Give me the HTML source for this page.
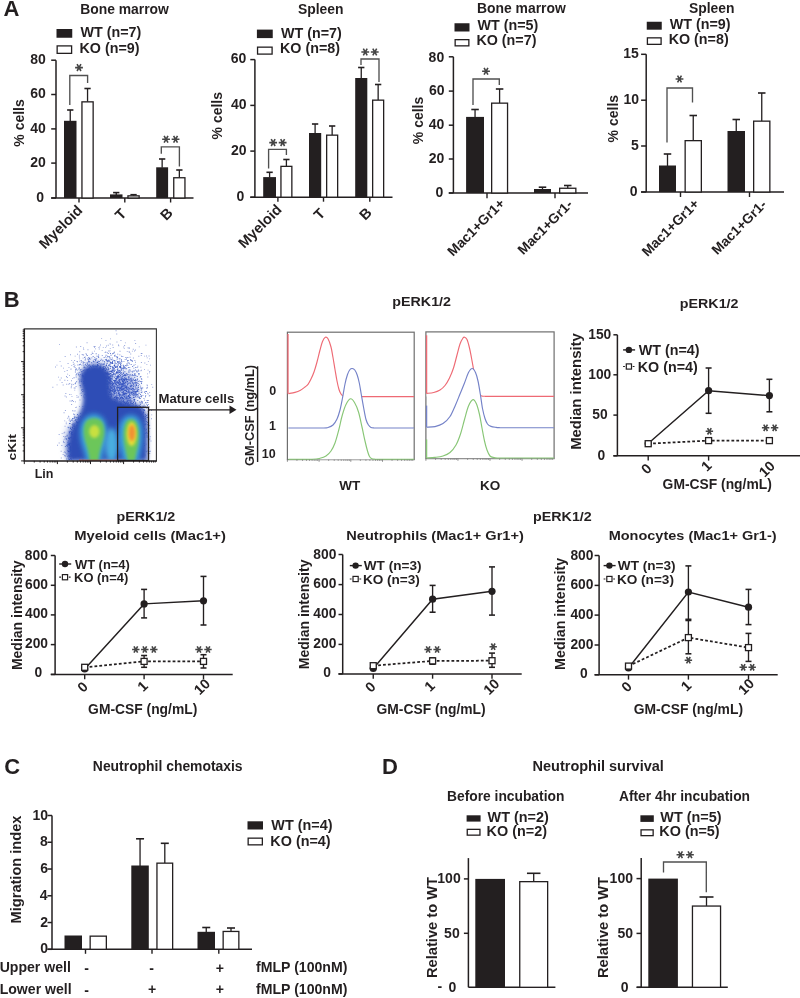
<!DOCTYPE html><html><head><meta charset="utf-8"><style>html,body{margin:0;padding:0;background:#fff;}svg{display:block;will-change:transform;}text{font-family:"Liberation Sans",sans-serif;font-weight:bold;}</style></head><body>
<svg width="800" height="998" viewBox="0 0 800 998">
<rect width="800" height="998" fill="#fff"/>
<text x="3.53" y="15.60" font-size="22" text-anchor="start" fill="#231f20">A</text>
<text x="3.71" y="307.20" font-size="22" text-anchor="start" fill="#231f20">B</text>
<text x="4.14" y="774.46" font-size="22" text-anchor="start" fill="#231f20">C</text>
<text x="382.00" y="774.20" font-size="22" text-anchor="start" fill="#231f20">D</text>
<text x="80.14" y="14.00" font-size="13.9" text-anchor="start" fill="#231f20">Bone marrow</text>
<rect x="56.50" y="29.00" width="15.75" height="8.75" fill="#231f20"/>
<rect x="57.15" y="45.90" width="14.45" height="7.45" fill="#fff" stroke="#231f20" stroke-width="1.3"/>
<text x="80.50" y="37.20" font-size="14.3" text-anchor="start" fill="#231f20">WT (n=7)</text>
<text x="79.50" y="53.20" font-size="14.3" text-anchor="start" fill="#231f20">KO (n=9)</text>
<line x1="56.00" y1="60.20" x2="56.00" y2="198.00" stroke="#231f20" stroke-width="1.5"/>
<line x1="51.20" y1="198.00" x2="193.50" y2="198.00" stroke="#231f20" stroke-width="1.5"/>
<line x1="51.20" y1="198.00" x2="56.00" y2="198.00" stroke="#231f20" stroke-width="1.5"/>
<text x="36.25" y="201.71" font-size="14" text-anchor="start" fill="#231f20">0</text>
<line x1="51.20" y1="163.10" x2="56.00" y2="163.10" stroke="#231f20" stroke-width="1.5"/>
<text x="30.30" y="167.31" font-size="14" text-anchor="start" fill="#231f20">20</text>
<line x1="51.20" y1="128.90" x2="56.00" y2="128.90" stroke="#231f20" stroke-width="1.5"/>
<text x="30.30" y="132.91" font-size="14" text-anchor="start" fill="#231f20">40</text>
<line x1="51.20" y1="94.50" x2="56.00" y2="94.50" stroke="#231f20" stroke-width="1.5"/>
<text x="30.30" y="98.31" font-size="14" text-anchor="start" fill="#231f20">60</text>
<line x1="51.20" y1="60.20" x2="56.00" y2="60.20" stroke="#231f20" stroke-width="1.5"/>
<text x="30.20" y="63.81" font-size="14" text-anchor="start" fill="#231f20">80</text>
<line x1="79.00" y1="198.00" x2="79.00" y2="202.50" stroke="#231f20" stroke-width="1.4"/>
<line x1="124.80" y1="198.00" x2="124.80" y2="202.50" stroke="#231f20" stroke-width="1.4"/>
<line x1="170.60" y1="198.00" x2="170.60" y2="202.50" stroke="#231f20" stroke-width="1.4"/>
<line x1="70.25" y1="110.00" x2="70.25" y2="121.30" stroke="#231f20" stroke-width="1.3"/>
<line x1="67.10" y1="110.00" x2="73.40" y2="110.00" stroke="#231f20" stroke-width="1.6"/>
<rect x="64.00" y="120.80" width="12.50" height="77.20" fill="#231f20"/>
<line x1="87.55" y1="88.50" x2="87.55" y2="101.70" stroke="#231f20" stroke-width="1.3"/>
<line x1="84.40" y1="88.50" x2="90.70" y2="88.50" stroke="#231f20" stroke-width="1.6"/>
<rect x="81.95" y="101.85" width="11.20" height="96.15" fill="#fff" stroke="#231f20" stroke-width="1.3"/>
<line x1="116.25" y1="192.60" x2="116.25" y2="194.90" stroke="#231f20" stroke-width="1.3"/>
<line x1="113.10" y1="192.60" x2="119.40" y2="192.60" stroke="#231f20" stroke-width="1.6"/>
<rect x="110.00" y="194.40" width="12.50" height="3.60" fill="#231f20"/>
<line x1="133.55" y1="194.70" x2="133.55" y2="195.70" stroke="#231f20" stroke-width="1.3"/>
<line x1="130.40" y1="194.70" x2="136.70" y2="194.70" stroke="#231f20" stroke-width="1.6"/>
<rect x="127.95" y="195.85" width="11.20" height="2.15" fill="#fff" stroke="#231f20" stroke-width="1.3"/>
<line x1="162.15" y1="159.00" x2="162.15" y2="167.80" stroke="#231f20" stroke-width="1.3"/>
<line x1="159.00" y1="159.00" x2="165.30" y2="159.00" stroke="#231f20" stroke-width="1.6"/>
<rect x="156.20" y="167.30" width="11.90" height="30.70" fill="#231f20"/>
<line x1="179.35" y1="170.00" x2="179.35" y2="177.60" stroke="#231f20" stroke-width="1.3"/>
<line x1="176.20" y1="170.00" x2="182.50" y2="170.00" stroke="#231f20" stroke-width="1.6"/>
<rect x="173.75" y="177.75" width="11.20" height="20.25" fill="#fff" stroke="#231f20" stroke-width="1.3"/>
<polyline points="69.80,105.00 69.80,75.50 87.60,75.50 87.60,83.00" fill="none" stroke="#505050" stroke-width="1.35"/>
<path d="M75.10,67.60L82.90,67.60M77.05,64.22L80.95,70.98M80.95,64.22L77.05,70.98" stroke="#454545" stroke-width="1.6" fill="none"/>
<polyline points="161.30,153.80 161.30,146.90 179.40,146.90 179.40,166.50" fill="none" stroke="#505050" stroke-width="1.35"/>
<path d="M162.15,139.30L169.95,139.30M164.10,135.92L168.00,142.68M168.00,135.92L164.10,142.68" stroke="#454545" stroke-width="1.6" fill="none"/>
<path d="M171.65,139.30L179.45,139.30M173.60,135.92L177.50,142.68M177.50,135.92L173.60,142.68" stroke="#454545" stroke-width="1.6" fill="none"/>
<text x="0.00" y="0.00" font-size="14" text-anchor="start" fill="#231f20" transform="translate(24.30 146.71) rotate(-90)">% cells</text>
<text x="0.00" y="0.00" font-size="14.6" text-anchor="start" fill="#231f20" transform="translate(44.94 249.67) rotate(-45)">Myeloid</text>
<text x="0.00" y="0.00" font-size="14.6" text-anchor="start" fill="#231f20" transform="translate(121.02 221.05) rotate(-45)">T</text>
<text x="0.00" y="0.00" font-size="14.6" text-anchor="start" fill="#231f20" transform="translate(166.14 221.26) rotate(-45)">B</text>
<text x="298.00" y="13.75" font-size="13.9" text-anchor="start" fill="#231f20">Spleen</text>
<rect x="256.90" y="29.60" width="15.85" height="8.50" fill="#231f20"/>
<rect x="257.55" y="47.15" width="14.55" height="6.95" fill="#fff" stroke="#231f20" stroke-width="1.3"/>
<text x="281.00" y="37.50" font-size="14.3" text-anchor="start" fill="#231f20">WT (n=7)</text>
<text x="280.00" y="53.20" font-size="14.3" text-anchor="start" fill="#231f20">KO (n=8)</text>
<line x1="254.90" y1="59.60" x2="254.90" y2="197.20" stroke="#231f20" stroke-width="1.5"/>
<line x1="250.30" y1="197.20" x2="392.50" y2="197.20" stroke="#231f20" stroke-width="1.5"/>
<line x1="250.30" y1="197.20" x2="254.90" y2="197.20" stroke="#231f20" stroke-width="1.5"/>
<text x="236.45" y="200.91" font-size="14" text-anchor="start" fill="#231f20">0</text>
<line x1="250.30" y1="151.10" x2="254.90" y2="151.10" stroke="#231f20" stroke-width="1.5"/>
<text x="231.00" y="155.01" font-size="14" text-anchor="start" fill="#231f20">20</text>
<line x1="250.30" y1="105.40" x2="254.90" y2="105.40" stroke="#231f20" stroke-width="1.5"/>
<text x="231.00" y="109.31" font-size="14" text-anchor="start" fill="#231f20">40</text>
<line x1="250.30" y1="59.60" x2="254.90" y2="59.60" stroke="#231f20" stroke-width="1.5"/>
<text x="230.80" y="63.41" font-size="14" text-anchor="start" fill="#231f20">60</text>
<line x1="277.90" y1="197.20" x2="277.90" y2="201.70" stroke="#231f20" stroke-width="1.4"/>
<line x1="323.50" y1="197.20" x2="323.50" y2="201.70" stroke="#231f20" stroke-width="1.4"/>
<line x1="369.80" y1="197.20" x2="369.80" y2="201.70" stroke="#231f20" stroke-width="1.4"/>
<line x1="269.60" y1="172.30" x2="269.60" y2="177.60" stroke="#231f20" stroke-width="1.3"/>
<line x1="266.45" y1="172.30" x2="272.75" y2="172.30" stroke="#231f20" stroke-width="1.6"/>
<rect x="263.20" y="177.10" width="12.80" height="20.10" fill="#231f20"/>
<line x1="286.40" y1="159.50" x2="286.40" y2="166.20" stroke="#231f20" stroke-width="1.3"/>
<line x1="283.25" y1="159.50" x2="289.55" y2="159.50" stroke="#231f20" stroke-width="1.6"/>
<rect x="280.95" y="166.35" width="10.90" height="30.85" fill="#fff" stroke="#231f20" stroke-width="1.3"/>
<line x1="315.10" y1="124.00" x2="315.10" y2="133.50" stroke="#231f20" stroke-width="1.3"/>
<line x1="311.95" y1="124.00" x2="318.25" y2="124.00" stroke="#231f20" stroke-width="1.6"/>
<rect x="309.00" y="133.00" width="12.20" height="64.20" fill="#231f20"/>
<line x1="332.15" y1="126.00" x2="332.15" y2="135.00" stroke="#231f20" stroke-width="1.3"/>
<line x1="329.00" y1="126.00" x2="335.30" y2="126.00" stroke="#231f20" stroke-width="1.6"/>
<rect x="326.65" y="135.15" width="11.00" height="62.05" fill="#fff" stroke="#231f20" stroke-width="1.3"/>
<line x1="361.25" y1="67.50" x2="361.25" y2="78.50" stroke="#231f20" stroke-width="1.3"/>
<line x1="358.10" y1="67.50" x2="364.40" y2="67.50" stroke="#231f20" stroke-width="1.6"/>
<rect x="355.20" y="78.00" width="12.10" height="119.20" fill="#231f20"/>
<line x1="378.15" y1="84.50" x2="378.15" y2="100.00" stroke="#231f20" stroke-width="1.3"/>
<line x1="375.00" y1="84.50" x2="381.30" y2="84.50" stroke="#231f20" stroke-width="1.6"/>
<rect x="372.65" y="100.15" width="11.00" height="97.05" fill="#fff" stroke="#231f20" stroke-width="1.3"/>
<polyline points="268.60,168.60 268.60,149.40 286.40,149.40 286.40,155.00" fill="none" stroke="#505050" stroke-width="1.35"/>
<path d="M269.25,142.60L277.05,142.60M271.20,139.22L275.10,145.98M275.10,139.22L271.20,145.98" stroke="#454545" stroke-width="1.6" fill="none"/>
<path d="M278.75,142.60L286.55,142.60M280.70,139.22L284.60,145.98M284.60,139.22L280.70,145.98" stroke="#454545" stroke-width="1.6" fill="none"/>
<polyline points="361.00,65.00 361.00,59.00 379.00,59.00 379.00,82.00" fill="none" stroke="#505050" stroke-width="1.35"/>
<path d="M361.35,52.00L369.15,52.00M363.30,48.62L367.20,55.38M367.20,48.62L363.30,55.38" stroke="#454545" stroke-width="1.6" fill="none"/>
<path d="M370.85,52.00L378.65,52.00M372.80,48.62L376.70,55.38M376.70,48.62L372.80,55.38" stroke="#454545" stroke-width="1.6" fill="none"/>
<text x="0.00" y="0.00" font-size="14" text-anchor="start" fill="#231f20" transform="translate(222.45 139.46) rotate(-90)">% cells</text>
<text x="0.00" y="0.00" font-size="14.6" text-anchor="start" fill="#231f20" transform="translate(244.14 248.92) rotate(-45)">Myeloid</text>
<text x="0.00" y="0.00" font-size="14.6" text-anchor="start" fill="#231f20" transform="translate(319.82 220.80) rotate(-45)">T</text>
<text x="0.00" y="0.00" font-size="14.6" text-anchor="start" fill="#231f20" transform="translate(365.24 220.96) rotate(-45)">B</text>
<text x="477.04" y="12.75" font-size="13.9" text-anchor="start" fill="#231f20">Bone marrow</text>
<rect x="454.50" y="23.25" width="15.00" height="8.25" fill="#231f20"/>
<rect x="455.15" y="39.65" width="13.70" height="6.20" fill="#fff" stroke="#231f20" stroke-width="1.3"/>
<text x="477.45" y="30.00" font-size="14.3" text-anchor="start" fill="#231f20">WT (n=5)</text>
<text x="476.45" y="45.00" font-size="14.3" text-anchor="start" fill="#231f20">KO (n=7)</text>
<line x1="453.40" y1="56.80" x2="453.40" y2="193.00" stroke="#231f20" stroke-width="1.5"/>
<line x1="448.80" y1="193.00" x2="588.00" y2="193.00" stroke="#231f20" stroke-width="1.5"/>
<line x1="448.80" y1="193.00" x2="453.40" y2="193.00" stroke="#231f20" stroke-width="1.5"/>
<text x="435.55" y="197.31" font-size="14" text-anchor="start" fill="#231f20">0</text>
<line x1="448.80" y1="159.00" x2="453.40" y2="159.00" stroke="#231f20" stroke-width="1.5"/>
<text x="428.80" y="163.01" font-size="14" text-anchor="start" fill="#231f20">20</text>
<line x1="448.80" y1="125.20" x2="453.40" y2="125.20" stroke="#231f20" stroke-width="1.5"/>
<text x="428.80" y="129.21" font-size="14" text-anchor="start" fill="#231f20">40</text>
<line x1="448.80" y1="91.10" x2="453.40" y2="91.10" stroke="#231f20" stroke-width="1.5"/>
<text x="429.00" y="95.11" font-size="14" text-anchor="start" fill="#231f20">60</text>
<line x1="448.80" y1="56.80" x2="453.40" y2="56.80" stroke="#231f20" stroke-width="1.5"/>
<text x="428.60" y="61.61" font-size="14" text-anchor="start" fill="#231f20">80</text>
<line x1="487.00" y1="193.00" x2="487.00" y2="198.20" stroke="#231f20" stroke-width="1.4"/>
<line x1="555.00" y1="193.00" x2="555.00" y2="198.20" stroke="#231f20" stroke-width="1.4"/>
<line x1="475.05" y1="109.50" x2="475.05" y2="117.40" stroke="#231f20" stroke-width="1.3"/>
<line x1="471.30" y1="109.50" x2="478.80" y2="109.50" stroke="#231f20" stroke-width="1.6"/>
<rect x="466.10" y="116.90" width="17.90" height="76.10" fill="#231f20"/>
<line x1="499.60" y1="89.00" x2="499.60" y2="103.00" stroke="#231f20" stroke-width="1.3"/>
<line x1="495.85" y1="89.00" x2="503.35" y2="89.00" stroke="#231f20" stroke-width="1.6"/>
<rect x="491.65" y="103.15" width="15.90" height="89.85" fill="#fff" stroke="#231f20" stroke-width="1.3"/>
<line x1="542.50" y1="187.20" x2="542.50" y2="189.50" stroke="#231f20" stroke-width="1.3"/>
<line x1="538.75" y1="187.20" x2="546.25" y2="187.20" stroke="#231f20" stroke-width="1.6"/>
<rect x="534.00" y="189.00" width="17.00" height="4.00" fill="#231f20"/>
<line x1="567.75" y1="185.50" x2="567.75" y2="188.10" stroke="#231f20" stroke-width="1.3"/>
<line x1="564.00" y1="185.50" x2="571.50" y2="185.50" stroke="#231f20" stroke-width="1.6"/>
<rect x="559.65" y="188.25" width="16.20" height="4.75" fill="#fff" stroke="#231f20" stroke-width="1.3"/>
<polyline points="473.00,105.00 473.00,79.00 499.30,79.00 499.30,85.00" fill="none" stroke="#505050" stroke-width="1.35"/>
<path d="M482.10,71.20L489.90,71.20M484.05,67.82L487.95,74.58M487.95,67.82L484.05,74.58" stroke="#454545" stroke-width="1.6" fill="none"/>
<text x="0.00" y="0.00" font-size="14" text-anchor="start" fill="#231f20" transform="translate(422.90 144.21) rotate(-90)">% cells</text>
<text x="0.00" y="0.00" font-size="13.8" text-anchor="start" fill="#231f20" transform="translate(453.01 256.93) rotate(-45)">Mac1+Gr1+</text>
<text x="0.00" y="0.00" font-size="13.8" text-anchor="start" fill="#231f20" transform="translate(523.25 255.49) rotate(-45)">Mac1+Gr1-</text>
<text x="688.90" y="12.75" font-size="13.9" text-anchor="start" fill="#231f20">Spleen</text>
<rect x="646.75" y="21.75" width="15.00" height="7.95" fill="#231f20"/>
<rect x="647.40" y="37.85" width="13.70" height="6.50" fill="#fff" stroke="#231f20" stroke-width="1.3"/>
<text x="669.70" y="28.80" font-size="14.3" text-anchor="start" fill="#231f20">WT (n=9)</text>
<text x="668.70" y="43.50" font-size="14.3" text-anchor="start" fill="#231f20">KO (n=8)</text>
<line x1="646.20" y1="54.30" x2="646.20" y2="192.00" stroke="#231f20" stroke-width="1.5"/>
<line x1="641.10" y1="192.00" x2="784.00" y2="192.00" stroke="#231f20" stroke-width="1.5"/>
<line x1="641.10" y1="192.00" x2="646.20" y2="192.00" stroke="#231f20" stroke-width="1.5"/>
<text x="629.65" y="196.31" font-size="14" text-anchor="start" fill="#231f20">0</text>
<line x1="641.10" y1="146.00" x2="646.20" y2="146.00" stroke="#231f20" stroke-width="1.5"/>
<text x="631.02" y="150.05" font-size="14" text-anchor="start" fill="#231f20">5</text>
<line x1="641.10" y1="100.20" x2="646.20" y2="100.20" stroke="#231f20" stroke-width="1.5"/>
<text x="623.40" y="104.21" font-size="14" text-anchor="start" fill="#231f20">10</text>
<line x1="641.10" y1="54.30" x2="646.20" y2="54.30" stroke="#231f20" stroke-width="1.5"/>
<text x="623.27" y="58.35" font-size="14" text-anchor="start" fill="#231f20">15</text>
<line x1="680.50" y1="192.00" x2="680.50" y2="197.00" stroke="#231f20" stroke-width="1.4"/>
<line x1="749.50" y1="192.00" x2="749.50" y2="197.00" stroke="#231f20" stroke-width="1.4"/>
<line x1="667.50" y1="154.00" x2="667.50" y2="166.00" stroke="#231f20" stroke-width="1.3"/>
<line x1="663.75" y1="154.00" x2="671.25" y2="154.00" stroke="#231f20" stroke-width="1.6"/>
<rect x="659.00" y="165.50" width="17.00" height="26.50" fill="#231f20"/>
<line x1="693.25" y1="115.50" x2="693.25" y2="140.50" stroke="#231f20" stroke-width="1.3"/>
<line x1="689.50" y1="115.50" x2="697.00" y2="115.50" stroke="#231f20" stroke-width="1.6"/>
<rect x="685.15" y="140.65" width="16.20" height="51.35" fill="#fff" stroke="#231f20" stroke-width="1.3"/>
<line x1="736.25" y1="119.50" x2="736.25" y2="131.50" stroke="#231f20" stroke-width="1.3"/>
<line x1="732.50" y1="119.50" x2="740.00" y2="119.50" stroke="#231f20" stroke-width="1.6"/>
<rect x="727.50" y="131.00" width="17.50" height="61.00" fill="#231f20"/>
<line x1="761.75" y1="93.00" x2="761.75" y2="121.00" stroke="#231f20" stroke-width="1.3"/>
<line x1="758.00" y1="93.00" x2="765.50" y2="93.00" stroke="#231f20" stroke-width="1.6"/>
<rect x="753.65" y="121.15" width="16.20" height="70.85" fill="#fff" stroke="#231f20" stroke-width="1.3"/>
<polyline points="667.00,142.50 667.00,88.00 692.50,88.00 692.50,102.50" fill="none" stroke="#505050" stroke-width="1.35"/>
<path d="M675.60,79.00L683.40,79.00M677.55,75.62L681.45,82.38M681.45,75.62L677.55,82.38" stroke="#454545" stroke-width="1.6" fill="none"/>
<text x="0.00" y="0.00" font-size="14" text-anchor="start" fill="#231f20" transform="translate(618.15 142.41) rotate(-90)">% cells</text>
<text x="0.00" y="0.00" font-size="13.8" text-anchor="start" fill="#231f20" transform="translate(647.41 257.18) rotate(-45)">Mac1+Gr1+</text>
<text x="0.00" y="0.00" font-size="13.8" text-anchor="start" fill="#231f20" transform="translate(717.25 255.59) rotate(-45)">Mac1+Gr1-</text>
<defs><clipPath id="fc"><rect x="24.5" y="328.9" width="131.6" height="131.6"/></clipPath><filter id="b1" x="-30%" y="-30%" width="160%" height="160%"><feGaussianBlur stdDeviation="1.9"/></filter><filter id="b2" x="-50%" y="-50%" width="200%" height="200%"><feGaussianBlur stdDeviation="2.4"/></filter><filter id="b3" x="-50%" y="-50%" width="200%" height="200%"><feGaussianBlur stdDeviation="1.6"/></filter><filter id="b4" x="-50%" y="-50%" width="200%" height="200%"><feGaussianBlur stdDeviation="3.5"/></filter></defs>
<g clip-path="url(#fc)">
<ellipse cx="124" cy="389" rx="14" ry="17" fill="#6f86d4" opacity="0.55" filter="url(#b4)"/>
<ellipse cx="73" cy="442" rx="8" ry="18" fill="#6f86d4" opacity="0.5" filter="url(#b4)"/>
<ellipse cx="96" cy="366" rx="13" ry="6" fill="#8193d8" opacity="0.35" filter="url(#b4)"/>
<path d="M111.8,389.7h.9v.9h-.9zM117.7,371.1h.9v.9h-.9zM103.8,378.5h.9v.9h-.9zM104.1,385.0h.9v.9h-.9zM103.1,368.3h.9v.9h-.9zM115.6,406.3h.9v.9h-.9zM106.9,379.9h.9v.9h-.9zM101.4,371.3h.9v.9h-.9zM117.8,404.5h.9v.9h-.9zM87.4,371.4h.9v.9h-.9zM120.2,363.9h.9v.9h-.9zM107.4,382.8h.9v.9h-.9zM112.5,389.4h.9v.9h-.9zM115.9,366.9h.9v.9h-.9zM74.4,422.7h.9v.9h-.9zM98.9,389.8h.9v.9h-.9zM105.7,367.9h.9v.9h-.9zM68.4,437.9h.9v.9h-.9zM121.6,379.8h.9v.9h-.9zM90.8,381.8h.9v.9h-.9zM116.0,398.7h.9v.9h-.9zM126.0,397.8h.9v.9h-.9zM70.4,445.7h.9v.9h-.9zM77.7,422.0h.9v.9h-.9zM108.6,376.2h.9v.9h-.9zM112.2,384.7h.9v.9h-.9zM112.6,386.2h.9v.9h-.9zM121.4,377.0h.9v.9h-.9zM107.9,391.2h.9v.9h-.9zM76.7,426.8h.9v.9h-.9zM123.2,393.6h.9v.9h-.9zM103.3,378.1h.9v.9h-.9zM123.6,405.7h.9v.9h-.9zM121.5,384.6h.9v.9h-.9zM112.3,401.5h.9v.9h-.9zM115.3,380.6h.9v.9h-.9zM120.7,405.0h.9v.9h-.9zM118.9,386.5h.9v.9h-.9zM120.2,364.5h.9v.9h-.9zM99.1,375.5h.9v.9h-.9zM128.5,400.5h.9v.9h-.9zM84.4,378.6h.9v.9h-.9zM135.8,390.7h.9v.9h-.9zM124.9,382.3h.9v.9h-.9zM106.1,378.2h.9v.9h-.9zM106.7,371.4h.9v.9h-.9zM116.0,397.3h.9v.9h-.9zM126.4,373.5h.9v.9h-.9zM112.6,386.8h.9v.9h-.9zM122.8,405.5h.9v.9h-.9zM130.6,384.8h.9v.9h-.9zM71.2,429.0h.9v.9h-.9zM69.2,444.6h.9v.9h-.9zM98.5,376.4h.9v.9h-.9zM75.2,437.5h.9v.9h-.9zM119.0,394.4h.9v.9h-.9zM95.2,379.0h.9v.9h-.9zM107.4,366.5h.9v.9h-.9zM109.8,376.0h.9v.9h-.9zM99.0,368.0h.9v.9h-.9zM113.3,373.8h.9v.9h-.9zM74.2,453.8h.9v.9h-.9zM114.2,401.5h.9v.9h-.9zM119.0,398.8h.9v.9h-.9zM126.0,377.9h.9v.9h-.9zM133.4,399.5h.9v.9h-.9zM115.9,384.4h.9v.9h-.9zM99.6,383.2h.9v.9h-.9zM102.4,363.9h.9v.9h-.9zM106.4,380.2h.9v.9h-.9zM88.9,367.6h.9v.9h-.9zM106.5,388.1h.9v.9h-.9zM104.5,386.0h.9v.9h-.9zM119.7,394.6h.9v.9h-.9zM127.8,396.1h.9v.9h-.9zM76.0,437.9h.9v.9h-.9zM103.8,392.3h.9v.9h-.9zM124.9,392.5h.9v.9h-.9zM127.4,397.9h.9v.9h-.9zM129.1,397.3h.9v.9h-.9zM72.8,425.6h.9v.9h-.9zM93.5,369.7h.9v.9h-.9zM94.6,374.4h.9v.9h-.9zM135.2,388.6h.9v.9h-.9zM104.1,361.2h.9v.9h-.9zM122.0,375.9h.9v.9h-.9zM120.0,366.6h.9v.9h-.9zM78.6,424.5h.9v.9h-.9zM126.2,368.3h.9v.9h-.9zM105.1,390.5h.9v.9h-.9zM71.4,434.2h.9v.9h-.9zM106.7,380.9h.9v.9h-.9zM102.4,384.0h.9v.9h-.9zM137.5,395.7h.9v.9h-.9zM114.0,397.3h.9v.9h-.9zM105.9,396.2h.9v.9h-.9zM122.6,385.0h.9v.9h-.9zM117.8,397.4h.9v.9h-.9zM115.3,405.0h.9v.9h-.9zM125.8,396.4h.9v.9h-.9zM109.2,377.0h.9v.9h-.9zM111.8,391.2h.9v.9h-.9zM105.0,376.4h.9v.9h-.9zM100.1,367.6h.9v.9h-.9zM93.9,382.8h.9v.9h-.9zM115.5,377.9h.9v.9h-.9zM135.4,386.8h.9v.9h-.9zM98.6,388.8h.9v.9h-.9zM119.1,396.4h.9v.9h-.9zM69.7,456.3h.9v.9h-.9zM119.3,381.0h.9v.9h-.9zM120.5,393.9h.9v.9h-.9zM97.3,362.1h.9v.9h-.9zM110.0,373.0h.9v.9h-.9zM104.3,388.0h.9v.9h-.9zM115.9,402.6h.9v.9h-.9zM134.3,399.0h.9v.9h-.9zM112.9,370.2h.9v.9h-.9zM107.3,375.3h.9v.9h-.9zM103.0,388.1h.9v.9h-.9zM103.7,380.3h.9v.9h-.9zM95.8,372.1h.9v.9h-.9zM89.1,375.8h.9v.9h-.9zM132.9,383.6h.9v.9h-.9zM122.3,400.9h.9v.9h-.9zM114.8,402.0h.9v.9h-.9zM101.3,387.5h.9v.9h-.9zM70.4,449.6h.9v.9h-.9zM117.5,387.1h.9v.9h-.9zM85.4,377.9h.9v.9h-.9zM100.0,380.9h.9v.9h-.9zM114.0,393.4h.9v.9h-.9zM70.6,452.5h.9v.9h-.9zM128.2,405.1h.9v.9h-.9zM125.4,389.5h.9v.9h-.9zM119.2,395.3h.9v.9h-.9zM117.1,381.3h.9v.9h-.9zM120.8,399.9h.9v.9h-.9zM115.7,404.1h.9v.9h-.9zM72.7,430.5h.9v.9h-.9zM123.1,382.6h.9v.9h-.9zM68.9,450.9h.9v.9h-.9zM75.7,430.0h.9v.9h-.9zM76.3,435.6h.9v.9h-.9zM117.8,397.3h.9v.9h-.9zM114.6,393.1h.9v.9h-.9zM68.2,437.6h.9v.9h-.9zM76.3,420.9h.9v.9h-.9zM114.7,397.0h.9v.9h-.9zM110.3,396.5h.9v.9h-.9zM134.7,385.5h.9v.9h-.9zM97.7,370.8h.9v.9h-.9zM122.4,388.6h.9v.9h-.9zM133.1,402.1h.9v.9h-.9zM122.9,401.2h.9v.9h-.9zM124.1,380.0h.9v.9h-.9zM92.6,376.1h.9v.9h-.9zM122.0,383.8h.9v.9h-.9zM68.9,432.1h.9v.9h-.9zM108.8,397.9h.9v.9h-.9zM117.4,367.8h.9v.9h-.9zM115.6,378.6h.9v.9h-.9zM104.1,392.2h.9v.9h-.9zM113.3,386.3h.9v.9h-.9zM98.8,373.9h.9v.9h-.9zM110.6,394.5h.9v.9h-.9zM103.6,388.7h.9v.9h-.9zM138.4,390.7h.9v.9h-.9zM143.1,412.1h.9v.9h-.9zM114.2,381.3h.9v.9h-.9zM120.2,375.0h.9v.9h-.9zM118.2,382.0h.9v.9h-.9zM89.2,375.1h.9v.9h-.9zM122.5,392.5h.9v.9h-.9zM79.3,426.7h.9v.9h-.9zM83.1,375.9h.9v.9h-.9zM129.6,399.8h.9v.9h-.9zM123.5,399.1h.9v.9h-.9zM70.2,442.8h.9v.9h-.9zM75.8,450.6h.9v.9h-.9zM122.8,392.3h.9v.9h-.9zM92.2,386.7h.9v.9h-.9zM109.0,402.1h.9v.9h-.9zM72.8,444.7h.9v.9h-.9zM119.6,367.0h.9v.9h-.9zM116.1,383.8h.9v.9h-.9zM112.6,382.9h.9v.9h-.9zM86.7,371.8h.9v.9h-.9zM81.6,427.4h.9v.9h-.9zM132.8,391.8h.9v.9h-.9zM118.4,393.0h.9v.9h-.9zM69.4,455.9h.9v.9h-.9zM123.9,388.5h.9v.9h-.9zM76.8,423.4h.9v.9h-.9zM129.4,374.6h.9v.9h-.9zM124.8,368.4h.9v.9h-.9zM99.7,375.8h.9v.9h-.9zM92.8,368.9h.9v.9h-.9zM127.1,381.0h.9v.9h-.9zM100.6,379.1h.9v.9h-.9zM114.1,398.9h.9v.9h-.9zM138.9,397.6h.9v.9h-.9zM113.2,380.1h.9v.9h-.9zM120.8,390.3h.9v.9h-.9zM69.9,445.7h.9v.9h-.9zM116.8,382.7h.9v.9h-.9zM113.2,388.8h.9v.9h-.9zM141.5,413.9h.9v.9h-.9zM123.6,382.7h.9v.9h-.9zM118.5,369.8h.9v.9h-.9zM122.9,365.5h.9v.9h-.9zM74.4,446.1h.9v.9h-.9zM125.6,398.0h.9v.9h-.9zM131.0,391.9h.9v.9h-.9zM112.1,378.6h.9v.9h-.9zM93.1,384.4h.9v.9h-.9zM123.3,397.9h.9v.9h-.9zM76.5,430.4h.9v.9h-.9zM81.7,426.8h.9v.9h-.9zM120.2,382.6h.9v.9h-.9zM122.5,383.4h.9v.9h-.9zM92.5,382.3h.9v.9h-.9zM76.4,441.2h.9v.9h-.9zM132.0,382.3h.9v.9h-.9zM104.0,363.6h.9v.9h-.9zM119.1,388.2h.9v.9h-.9zM117.2,361.9h.9v.9h-.9zM120.4,383.7h.9v.9h-.9zM72.2,427.6h.9v.9h-.9zM92.4,374.3h.9v.9h-.9zM116.2,402.8h.9v.9h-.9zM106.9,385.4h.9v.9h-.9zM98.3,373.8h.9v.9h-.9zM95.4,372.2h.9v.9h-.9zM121.5,392.0h.9v.9h-.9zM109.3,365.6h.9v.9h-.9zM71.2,449.9h.9v.9h-.9zM100.7,363.4h.9v.9h-.9zM108.5,399.7h.9v.9h-.9zM130.0,397.1h.9v.9h-.9zM142.7,405.6h.9v.9h-.9zM71.0,431.6h.9v.9h-.9zM116.2,398.3h.9v.9h-.9zM111.1,390.3h.9v.9h-.9zM87.0,378.9h.9v.9h-.9zM100.9,384.7h.9v.9h-.9zM108.1,377.0h.9v.9h-.9zM115.6,363.1h.9v.9h-.9zM131.0,388.5h.9v.9h-.9zM85.9,377.4h.9v.9h-.9zM130.0,403.4h.9v.9h-.9zM72.3,424.6h.9v.9h-.9zM127.1,405.5h.9v.9h-.9zM118.7,370.1h.9v.9h-.9zM91.5,383.7h.9v.9h-.9zM100.1,366.7h.9v.9h-.9zM70.2,447.5h.9v.9h-.9zM87.2,383.1h.9v.9h-.9zM131.0,392.0h.9v.9h-.9zM107.4,389.6h.9v.9h-.9zM91.7,374.9h.9v.9h-.9zM74.2,434.8h.9v.9h-.9zM78.2,422.3h.9v.9h-.9zM75.7,446.9h.9v.9h-.9zM120.2,390.6h.9v.9h-.9zM133.0,397.2h.9v.9h-.9zM120.3,367.7h.9v.9h-.9zM97.5,372.2h.9v.9h-.9zM130.3,378.2h.9v.9h-.9zM141.5,423.4h.9v.9h-.9zM110.0,390.2h.9v.9h-.9zM128.3,395.0h.9v.9h-.9zM114.3,385.6h.9v.9h-.9zM100.5,363.8h.9v.9h-.9zM77.1,434.9h.9v.9h-.9zM137.3,390.3h.9v.9h-.9zM108.4,386.3h.9v.9h-.9zM134.9,391.0h.9v.9h-.9zM118.1,382.9h.9v.9h-.9zM120.7,402.5h.9v.9h-.9zM114.5,382.2h.9v.9h-.9zM108.8,392.2h.9v.9h-.9zM94.2,384.5h.9v.9h-.9zM106.7,379.8h.9v.9h-.9zM115.4,396.2h.9v.9h-.9zM106.3,372.5h.9v.9h-.9zM113.6,392.5h.9v.9h-.9zM80.9,430.0h.9v.9h-.9zM127.2,388.8h.9v.9h-.9zM107.7,382.4h.9v.9h-.9zM114.0,391.0h.9v.9h-.9zM129.1,382.5h.9v.9h-.9zM95.4,378.3h.9v.9h-.9zM130.2,386.0h.9v.9h-.9zM66.6,445.1h.9v.9h-.9zM96.4,382.5h.9v.9h-.9zM127.0,384.3h.9v.9h-.9zM116.2,392.3h.9v.9h-.9zM115.9,396.6h.9v.9h-.9zM127.8,402.1h.9v.9h-.9zM131.5,384.9h.9v.9h-.9zM116.9,386.4h.9v.9h-.9zM116.8,369.1h.9v.9h-.9zM102.3,367.4h.9v.9h-.9zM132.8,391.4h.9v.9h-.9zM107.2,373.2h.9v.9h-.9zM123.8,388.3h.9v.9h-.9zM121.6,395.2h.9v.9h-.9zM129.0,404.5h.9v.9h-.9zM83.4,376.4h.9v.9h-.9zM141.8,401.8h.9v.9h-.9zM109.2,380.3h.9v.9h-.9zM112.0,389.8h.9v.9h-.9zM85.6,374.0h.9v.9h-.9zM128.8,388.5h.9v.9h-.9zM109.4,378.7h.9v.9h-.9zM118.7,379.1h.9v.9h-.9zM122.7,390.8h.9v.9h-.9zM108.3,396.2h.9v.9h-.9zM124.4,394.1h.9v.9h-.9zM124.5,393.8h.9v.9h-.9zM113.4,403.6h.9v.9h-.9zM93.0,377.5h.9v.9h-.9zM126.4,400.6h.9v.9h-.9zM136.2,394.1h.9v.9h-.9zM120.0,372.5h.9v.9h-.9zM119.3,367.2h.9v.9h-.9zM114.5,390.2h.9v.9h-.9zM86.9,376.4h.9v.9h-.9zM115.5,389.2h.9v.9h-.9zM113.7,392.7h.9v.9h-.9zM105.6,373.0h.9v.9h-.9zM136.5,387.9h.9v.9h-.9zM105.0,389.5h.9v.9h-.9zM124.3,374.1h.9v.9h-.9zM118.4,381.7h.9v.9h-.9zM130.0,374.4h.9v.9h-.9zM124.8,379.4h.9v.9h-.9zM89.6,383.4h.9v.9h-.9zM74.2,452.1h.9v.9h-.9zM125.5,382.6h.9v.9h-.9zM143.0,420.3h.9v.9h-.9zM97.7,382.3h.9v.9h-.9zM123.2,394.8h.9v.9h-.9zM95.5,375.3h.9v.9h-.9zM112.4,387.7h.9v.9h-.9zM100.5,368.4h.9v.9h-.9zM124.5,401.5h.9v.9h-.9zM103.8,394.1h.9v.9h-.9zM93.5,375.1h.9v.9h-.9zM127.4,383.5h.9v.9h-.9zM125.9,373.3h.9v.9h-.9zM110.4,375.3h.9v.9h-.9zM107.7,377.6h.9v.9h-.9zM108.6,388.2h.9v.9h-.9zM114.3,404.4h.9v.9h-.9zM119.7,383.9h.9v.9h-.9zM75.9,434.7h.9v.9h-.9zM137.3,394.1h.9v.9h-.9zM98.9,374.2h.9v.9h-.9zM125.5,396.7h.9v.9h-.9zM70.6,443.3h.9v.9h-.9zM93.8,377.4h.9v.9h-.9zM128.5,370.8h.9v.9h-.9zM110.2,366.3h.9v.9h-.9zM114.2,364.8h.9v.9h-.9zM108.4,388.9h.9v.9h-.9zM121.2,370.2h.9v.9h-.9zM101.6,382.4h.9v.9h-.9zM110.7,392.5h.9v.9h-.9zM117.4,386.2h.9v.9h-.9zM100.4,390.8h.9v.9h-.9zM84.2,377.4h.9v.9h-.9zM87.4,370.0h.9v.9h-.9zM66.9,445.9h.9v.9h-.9zM111.3,370.4h.9v.9h-.9zM127.5,388.8h.9v.9h-.9zM127.5,403.7h.9v.9h-.9zM73.8,424.9h.9v.9h-.9zM113.5,393.9h.9v.9h-.9zM97.2,387.3h.9v.9h-.9zM124.9,403.6h.9v.9h-.9zM86.3,378.6h.9v.9h-.9zM91.7,383.0h.9v.9h-.9zM88.9,376.1h.9v.9h-.9zM127.5,383.6h.9v.9h-.9zM116.1,394.5h.9v.9h-.9zM134.9,379.8h.9v.9h-.9zM109.9,385.6h.9v.9h-.9zM93.1,366.3h.9v.9h-.9zM124.6,385.3h.9v.9h-.9zM67.8,440.6h.9v.9h-.9zM97.6,388.1h.9v.9h-.9zM119.8,403.9h.9v.9h-.9zM127.5,374.1h.9v.9h-.9zM99.4,380.2h.9v.9h-.9zM131.7,375.1h.9v.9h-.9zM88.4,380.3h.9v.9h-.9zM69.0,444.1h.9v.9h-.9zM99.7,374.1h.9v.9h-.9zM77.1,427.8h.9v.9h-.9zM71.8,427.0h.9v.9h-.9zM122.3,384.8h.9v.9h-.9zM102.5,386.0h.9v.9h-.9zM96.6,375.4h.9v.9h-.9zM108.7,377.3h.9v.9h-.9zM110.3,378.3h.9v.9h-.9zM110.3,380.4h.9v.9h-.9zM129.7,378.5h.9v.9h-.9zM91.8,379.1h.9v.9h-.9zM113.7,368.9h.9v.9h-.9zM121.1,397.2h.9v.9h-.9zM96.0,379.7h.9v.9h-.9zM125.7,397.2h.9v.9h-.9zM122.2,388.1h.9v.9h-.9zM99.8,388.2h.9v.9h-.9zM120.1,407.4h.9v.9h-.9zM118.3,377.7h.9v.9h-.9zM141.9,425.2h.9v.9h-.9zM142.4,409.3h.9v.9h-.9zM70.1,447.0h.9v.9h-.9zM76.2,452.8h.9v.9h-.9zM105.0,376.1h.9v.9h-.9zM133.6,399.6h.9v.9h-.9zM118.9,374.0h.9v.9h-.9zM72.8,445.2h.9v.9h-.9zM143.0,426.2h.9v.9h-.9zM78.4,425.2h.9v.9h-.9zM120.5,367.3h.9v.9h-.9zM67.2,442.4h.9v.9h-.9zM128.7,404.4h.9v.9h-.9zM102.1,376.0h.9v.9h-.9zM121.8,398.6h.9v.9h-.9zM141.9,417.2h.9v.9h-.9zM123.3,388.8h.9v.9h-.9zM124.7,367.3h.9v.9h-.9zM114.8,380.0h.9v.9h-.9zM85.7,379.1h.9v.9h-.9zM132.8,379.5h.9v.9h-.9zM101.8,383.7h.9v.9h-.9zM88.0,369.1h.9v.9h-.9zM125.6,389.8h.9v.9h-.9zM92.8,373.7h.9v.9h-.9zM93.9,374.1h.9v.9h-.9zM121.0,389.1h.9v.9h-.9zM121.0,389.2h.9v.9h-.9zM104.5,385.5h.9v.9h-.9zM127.9,391.5h.9v.9h-.9zM68.8,433.4h.9v.9h-.9zM111.9,363.1h.9v.9h-.9zM133.8,390.9h.9v.9h-.9zM106.1,373.1h.9v.9h-.9zM117.0,396.8h.9v.9h-.9zM113.9,388.1h.9v.9h-.9zM71.3,454.9h.9v.9h-.9zM124.4,396.8h.9v.9h-.9zM116.4,370.9h.9v.9h-.9zM119.3,394.6h.9v.9h-.9zM110.4,370.8h.9v.9h-.9zM110.0,377.4h.9v.9h-.9zM66.9,444.2h.9v.9h-.9zM126.7,407.2h.9v.9h-.9zM97.0,384.3h.9v.9h-.9zM74.4,428.8h.9v.9h-.9zM133.5,389.2h.9v.9h-.9zM138.3,389.1h.9v.9h-.9zM105.9,373.3h.9v.9h-.9zM138.6,392.8h.9v.9h-.9zM90.4,365.8h.9v.9h-.9zM116.5,372.6h.9v.9h-.9zM70.1,446.1h.9v.9h-.9zM114.9,385.9h.9v.9h-.9zM120.9,386.0h.9v.9h-.9zM121.1,385.4h.9v.9h-.9zM119.3,382.7h.9v.9h-.9zM117.8,380.4h.9v.9h-.9zM69.9,430.9h.9v.9h-.9zM125.7,398.8h.9v.9h-.9zM75.4,430.3h.9v.9h-.9zM137.6,387.4h.9v.9h-.9zM76.9,447.3h.9v.9h-.9zM113.9,396.7h.9v.9h-.9zM108.3,381.6h.9v.9h-.9zM114.3,385.7h.9v.9h-.9zM88.4,378.1h.9v.9h-.9zM125.8,377.8h.9v.9h-.9zM70.0,453.9h.9v.9h-.9zM111.3,362.9h.9v.9h-.9zM69.6,449.3h.9v.9h-.9zM115.6,390.1h.9v.9h-.9zM111.1,402.5h.9v.9h-.9zM108.6,382.2h.9v.9h-.9zM134.1,380.1h.9v.9h-.9zM100.4,384.8h.9v.9h-.9zM95.9,370.5h.9v.9h-.9zM118.4,383.4h.9v.9h-.9zM119.9,386.7h.9v.9h-.9zM109.9,382.8h.9v.9h-.9zM107.1,373.8h.9v.9h-.9zM122.4,368.3h.9v.9h-.9zM87.6,372.6h.9v.9h-.9zM88.2,371.5h.9v.9h-.9zM122.7,385.7h.9v.9h-.9zM106.4,376.2h.9v.9h-.9zM117.0,390.2h.9v.9h-.9zM116.7,386.4h.9v.9h-.9zM98.4,377.4h.9v.9h-.9zM107.6,376.4h.9v.9h-.9zM106.1,376.9h.9v.9h-.9zM115.2,374.3h.9v.9h-.9zM106.6,373.9h.9v.9h-.9zM122.1,397.0h.9v.9h-.9zM104.2,386.5h.9v.9h-.9zM108.4,372.6h.9v.9h-.9zM125.4,395.3h.9v.9h-.9zM111.8,372.1h.9v.9h-.9zM76.8,428.9h.9v.9h-.9zM100.6,370.2h.9v.9h-.9zM111.0,385.4h.9v.9h-.9zM125.4,380.7h.9v.9h-.9zM128.6,392.1h.9v.9h-.9zM135.5,381.9h.9v.9h-.9zM119.9,382.6h.9v.9h-.9zM128.4,377.1h.9v.9h-.9zM69.4,437.6h.9v.9h-.9zM105.8,388.2h.9v.9h-.9zM107.3,381.2h.9v.9h-.9zM111.7,384.0h.9v.9h-.9zM110.0,367.9h.9v.9h-.9zM102.2,374.3h.9v.9h-.9zM113.3,382.7h.9v.9h-.9zM105.2,376.2h.9v.9h-.9zM102.0,369.0h.9v.9h-.9zM114.8,382.4h.9v.9h-.9zM76.6,430.4h.9v.9h-.9zM93.0,376.9h.9v.9h-.9zM129.2,396.6h.9v.9h-.9zM88.9,369.3h.9v.9h-.9zM109.1,391.4h.9v.9h-.9zM143.5,424.2h.9v.9h-.9zM72.7,445.7h.9v.9h-.9zM133.6,395.0h.9v.9h-.9zM121.9,380.8h.9v.9h-.9zM142.6,406.2h.9v.9h-.9zM136.5,390.7h.9v.9h-.9zM92.0,365.6h.9v.9h-.9zM117.6,405.3h.9v.9h-.9zM74.2,444.5h.9v.9h-.9zM115.9,381.5h.9v.9h-.9zM108.0,387.4h.9v.9h-.9zM74.8,438.1h.9v.9h-.9zM121.2,397.0h.9v.9h-.9zM125.8,390.8h.9v.9h-.9zM111.5,376.0h.9v.9h-.9zM113.8,391.0h.9v.9h-.9zM110.9,378.1h.9v.9h-.9zM95.2,377.8h.9v.9h-.9zM110.6,373.5h.9v.9h-.9zM109.6,398.7h.9v.9h-.9zM90.0,385.3h.9v.9h-.9zM98.1,382.5h.9v.9h-.9zM112.8,398.5h.9v.9h-.9zM130.3,386.1h.9v.9h-.9zM126.7,381.5h.9v.9h-.9zM136.6,396.5h.9v.9h-.9zM125.8,391.3h.9v.9h-.9zM121.2,379.1h.9v.9h-.9zM111.1,371.3h.9v.9h-.9zM130.7,384.4h.9v.9h-.9zM105.6,391.9h.9v.9h-.9zM68.3,444.6h.9v.9h-.9zM100.9,381.1h.9v.9h-.9zM120.7,373.9h.9v.9h-.9zM77.0,426.5h.9v.9h-.9zM112.0,389.2h.9v.9h-.9zM111.2,396.2h.9v.9h-.9zM133.0,388.3h.9v.9h-.9zM133.1,393.0h.9v.9h-.9zM110.2,374.9h.9v.9h-.9zM109.1,390.2h.9v.9h-.9zM104.0,386.5h.9v.9h-.9zM71.3,435.9h.9v.9h-.9zM124.0,396.0h.9v.9h-.9zM116.0,392.4h.9v.9h-.9zM88.5,375.9h.9v.9h-.9zM111.7,384.7h.9v.9h-.9zM119.2,366.1h.9v.9h-.9zM136.0,391.6h.9v.9h-.9zM83.8,378.3h.9v.9h-.9zM135.1,396.3h.9v.9h-.9zM107.5,361.3h.9v.9h-.9zM127.3,383.3h.9v.9h-.9zM143.1,409.5h.9v.9h-.9zM117.9,392.4h.9v.9h-.9zM99.4,375.0h.9v.9h-.9zM86.7,372.4h.9v.9h-.9zM107.4,373.3h.9v.9h-.9zM69.0,443.1h.9v.9h-.9zM119.6,388.2h.9v.9h-.9zM132.0,392.2h.9v.9h-.9zM142.1,422.6h.9v.9h-.9zM115.0,390.7h.9v.9h-.9zM71.5,449.7h.9v.9h-.9zM80.0,429.9h.9v.9h-.9zM132.5,389.8h.9v.9h-.9zM116.8,376.5h.9v.9h-.9zM68.8,447.5h.9v.9h-.9zM116.4,377.9h.9v.9h-.9zM123.4,402.3h.9v.9h-.9zM103.0,369.0h.9v.9h-.9zM109.9,362.2h.9v.9h-.9zM124.5,387.5h.9v.9h-.9zM106.2,368.9h.9v.9h-.9zM119.4,370.4h.9v.9h-.9zM107.7,378.4h.9v.9h-.9zM126.7,403.3h.9v.9h-.9zM99.3,379.6h.9v.9h-.9zM113.9,389.3h.9v.9h-.9zM114.1,389.9h.9v.9h-.9zM137.6,394.7h.9v.9h-.9zM138.4,396.9h.9v.9h-.9zM110.3,403.2h.9v.9h-.9zM113.6,401.5h.9v.9h-.9zM102.6,370.0h.9v.9h-.9zM124.9,378.4h.9v.9h-.9zM117.0,372.2h.9v.9h-.9zM124.6,378.1h.9v.9h-.9zM120.7,378.3h.9v.9h-.9zM77.5,443.4h.9v.9h-.9zM110.0,383.8h.9v.9h-.9zM101.9,389.1h.9v.9h-.9zM116.5,396.8h.9v.9h-.9zM125.6,387.6h.9v.9h-.9zM106.7,398.4h.9v.9h-.9zM109.6,380.0h.9v.9h-.9zM105.9,373.1h.9v.9h-.9zM115.8,381.7h.9v.9h-.9zM122.7,380.8h.9v.9h-.9zM70.9,437.3h.9v.9h-.9zM110.1,394.0h.9v.9h-.9zM112.8,373.9h.9v.9h-.9zM113.8,365.2h.9v.9h-.9zM129.6,399.0h.9v.9h-.9zM119.1,382.4h.9v.9h-.9zM69.4,456.2h.9v.9h-.9zM126.6,379.0h.9v.9h-.9zM97.7,389.1h.9v.9h-.9zM101.9,390.6h.9v.9h-.9zM104.3,385.0h.9v.9h-.9zM124.4,384.4h.9v.9h-.9zM123.2,372.7h.9v.9h-.9zM68.8,431.2h.9v.9h-.9zM119.1,384.0h.9v.9h-.9zM109.1,379.6h.9v.9h-.9zM131.5,397.8h.9v.9h-.9zM127.6,398.8h.9v.9h-.9zM103.0,374.7h.9v.9h-.9zM135.1,393.9h.9v.9h-.9zM114.8,375.7h.9v.9h-.9zM131.0,377.7h.9v.9h-.9zM87.0,369.6h.9v.9h-.9zM112.6,369.9h.9v.9h-.9zM99.4,372.3h.9v.9h-.9zM105.0,382.9h.9v.9h-.9zM133.9,382.4h.9v.9h-.9zM72.6,430.2h.9v.9h-.9zM112.1,367.3h.9v.9h-.9zM100.4,383.2h.9v.9h-.9zM133.7,391.2h.9v.9h-.9zM111.3,387.1h.9v.9h-.9zM143.6,409.0h.9v.9h-.9zM94.0,365.7h.9v.9h-.9zM70.2,448.8h.9v.9h-.9zM115.5,383.5h.9v.9h-.9zM68.4,442.6h.9v.9h-.9zM104.0,378.3h.9v.9h-.9zM117.4,369.8h.9v.9h-.9zM113.2,389.2h.9v.9h-.9zM113.6,380.0h.9v.9h-.9zM106.6,361.3h.9v.9h-.9zM117.9,372.6h.9v.9h-.9zM108.3,397.6h.9v.9h-.9zM98.9,378.8h.9v.9h-.9zM110.2,386.9h.9v.9h-.9zM118.1,403.8h.9v.9h-.9zM100.3,380.4h.9v.9h-.9zM103.0,376.4h.9v.9h-.9zM113.3,372.7h.9v.9h-.9zM109.5,393.4h.9v.9h-.9zM129.7,385.5h.9v.9h-.9zM81.8,427.0h.9v.9h-.9zM112.4,362.9h.9v.9h-.9zM129.8,402.1h.9v.9h-.9zM115.5,402.9h.9v.9h-.9zM109.8,380.9h.9v.9h-.9zM119.9,384.7h.9v.9h-.9zM123.4,393.1h.9v.9h-.9zM123.4,389.4h.9v.9h-.9zM127.8,402.8h.9v.9h-.9zM102.7,385.9h.9v.9h-.9zM89.2,378.6h.9v.9h-.9zM114.9,383.6h.9v.9h-.9zM126.0,390.9h.9v.9h-.9zM136.2,394.3h.9v.9h-.9zM142.4,413.2h.9v.9h-.9zM131.2,393.7h.9v.9h-.9zM124.5,402.0h.9v.9h-.9zM127.3,381.4h.9v.9h-.9zM101.5,374.3h.9v.9h-.9zM114.8,391.1h.9v.9h-.9zM125.0,384.7h.9v.9h-.9zM120.3,387.9h.9v.9h-.9zM126.6,396.2h.9v.9h-.9zM113.1,366.7h.9v.9h-.9zM122.2,389.5h.9v.9h-.9zM131.1,392.7h.9v.9h-.9zM115.8,372.1h.9v.9h-.9zM128.5,371.9h.9v.9h-.9zM143.6,416.6h.9v.9h-.9zM73.7,441.4h.9v.9h-.9zM117.7,394.4h.9v.9h-.9zM123.7,380.0h.9v.9h-.9zM125.5,386.0h.9v.9h-.9zM111.7,383.8h.9v.9h-.9zM134.8,382.5h.9v.9h-.9zM119.6,386.4h.9v.9h-.9zM78.7,432.3h.9v.9h-.9zM129.6,385.6h.9v.9h-.9zM104.6,396.4h.9v.9h-.9zM84.5,376.6h.9v.9h-.9zM115.8,398.3h.9v.9h-.9zM125.2,390.0h.9v.9h-.9zM119.9,398.3h.9v.9h-.9zM120.0,370.5h.9v.9h-.9zM111.1,382.8h.9v.9h-.9zM76.9,430.7h.9v.9h-.9zM79.9,432.4h.9v.9h-.9zM120.1,365.9h.9v.9h-.9zM135.7,393.2h.9v.9h-.9zM120.8,369.0h.9v.9h-.9zM76.9,429.7h.9v.9h-.9zM91.8,375.4h.9v.9h-.9zM119.0,405.2h.9v.9h-.9zM129.6,397.8h.9v.9h-.9zM115.5,384.7h.9v.9h-.9zM115.7,398.3h.9v.9h-.9zM108.9,374.1h.9v.9h-.9zM112.5,383.8h.9v.9h-.9zM143.1,412.4h.9v.9h-.9zM123.6,393.8h.9v.9h-.9zM69.0,438.7h.9v.9h-.9zM141.5,408.0h.9v.9h-.9zM68.0,451.0h.9v.9h-.9zM135.2,391.9h.9v.9h-.9zM111.9,381.4h.9v.9h-.9zM113.7,374.1h.9v.9h-.9zM119.5,371.3h.9v.9h-.9zM128.4,376.0h.9v.9h-.9zM124.9,389.8h.9v.9h-.9zM95.0,381.7h.9v.9h-.9zM122.8,383.5h.9v.9h-.9zM101.7,387.2h.9v.9h-.9zM119.1,386.9h.9v.9h-.9zM113.5,388.7h.9v.9h-.9zM115.5,400.3h.9v.9h-.9zM121.8,404.9h.9v.9h-.9zM133.6,398.7h.9v.9h-.9zM127.3,403.9h.9v.9h-.9zM119.5,379.2h.9v.9h-.9zM111.4,385.6h.9v.9h-.9zM129.4,388.5h.9v.9h-.9zM120.2,388.9h.9v.9h-.9zM129.5,387.7h.9v.9h-.9zM126.0,402.5h.9v.9h-.9zM106.6,378.0h.9v.9h-.9zM114.4,380.3h.9v.9h-.9zM72.6,452.9h.9v.9h-.9zM109.5,402.5h.9v.9h-.9zM117.0,369.5h.9v.9h-.9zM119.6,395.0h.9v.9h-.9zM113.2,371.4h.9v.9h-.9zM104.2,377.0h.9v.9h-.9zM113.8,368.0h.9v.9h-.9zM129.2,393.9h.9v.9h-.9zM120.7,365.4h.9v.9h-.9zM125.3,389.9h.9v.9h-.9zM125.2,381.7h.9v.9h-.9zM117.0,404.2h.9v.9h-.9zM112.6,367.0h.9v.9h-.9zM119.0,393.8h.9v.9h-.9zM121.1,404.7h.9v.9h-.9zM124.4,382.6h.9v.9h-.9zM118.8,391.8h.9v.9h-.9zM97.4,379.6h.9v.9h-.9zM111.6,388.2h.9v.9h-.9zM101.6,381.2h.9v.9h-.9zM109.8,364.4h.9v.9h-.9zM85.7,379.8h.9v.9h-.9zM117.1,399.7h.9v.9h-.9zM109.8,383.2h.9v.9h-.9zM131.2,401.6h.9v.9h-.9zM114.6,373.0h.9v.9h-.9zM78.4,438.2h.9v.9h-.9zM142.6,427.7h.9v.9h-.9zM72.4,434.4h.9v.9h-.9zM76.1,442.8h.9v.9h-.9zM101.6,391.5h.9v.9h-.9zM119.4,390.0h.9v.9h-.9zM113.4,383.1h.9v.9h-.9zM91.4,384.3h.9v.9h-.9zM71.0,433.1h.9v.9h-.9zM143.4,424.7h.9v.9h-.9zM111.3,395.2h.9v.9h-.9zM105.6,365.4h.9v.9h-.9zM87.3,375.3h.9v.9h-.9zM116.7,401.2h.9v.9h-.9zM73.7,428.0h.9v.9h-.9zM73.0,457.4h.9v.9h-.9zM110.7,378.9h.9v.9h-.9zM104.5,391.0h.9v.9h-.9zM108.5,360.5h.9v.9h-.9zM118.1,376.5h.9v.9h-.9zM129.3,379.7h.9v.9h-.9zM109.8,382.0h.9v.9h-.9zM136.2,384.7h.9v.9h-.9zM95.8,382.7h.9v.9h-.9zM102.1,394.9h.9v.9h-.9zM70.7,433.3h.9v.9h-.9zM113.4,375.7h.9v.9h-.9zM127.8,395.1h.9v.9h-.9zM106.8,386.3h.9v.9h-.9zM73.8,445.1h.9v.9h-.9zM103.4,377.3h.9v.9h-.9zM118.8,376.1h.9v.9h-.9zM117.3,404.0h.9v.9h-.9zM143.6,418.5h.9v.9h-.9zM106.1,393.5h.9v.9h-.9zM104.8,390.3h.9v.9h-.9zM114.6,361.8h.9v.9h-.9zM104.7,370.0h.9v.9h-.9zM78.7,427.9h.9v.9h-.9zM113.3,372.4h.9v.9h-.9zM132.5,387.4h.9v.9h-.9zM104.4,365.9h.9v.9h-.9zM134.7,393.4h.9v.9h-.9zM111.5,370.7h.9v.9h-.9zM72.8,443.7h.9v.9h-.9zM121.9,381.4h.9v.9h-.9zM119.1,378.9h.9v.9h-.9zM73.8,446.2h.9v.9h-.9zM78.7,421.1h.9v.9h-.9zM119.1,372.2h.9v.9h-.9zM107.1,371.8h.9v.9h-.9zM125.7,379.1h.9v.9h-.9zM79.5,432.4h.9v.9h-.9zM108.2,373.7h.9v.9h-.9zM120.7,395.8h.9v.9h-.9zM122.8,371.7h.9v.9h-.9zM128.6,397.4h.9v.9h-.9zM75.6,439.9h.9v.9h-.9zM121.5,387.1h.9v.9h-.9zM124.0,379.1h.9v.9h-.9zM107.8,368.8h.9v.9h-.9zM118.9,389.1h.9v.9h-.9zM84.3,380.7h.9v.9h-.9zM97.7,365.1h.9v.9h-.9zM125.7,386.8h.9v.9h-.9zM123.0,381.5h.9v.9h-.9zM121.6,377.6h.9v.9h-.9zM100.8,391.5h.9v.9h-.9zM70.1,428.1h.9v.9h-.9zM111.9,373.9h.9v.9h-.9zM102.8,377.8h.9v.9h-.9zM111.2,387.7h.9v.9h-.9zM105.9,383.3h.9v.9h-.9zM108.6,370.9h.9v.9h-.9zM115.2,402.7h.9v.9h-.9zM102.5,385.2h.9v.9h-.9zM97.7,375.7h.9v.9h-.9zM87.4,368.9h.9v.9h-.9zM91.5,378.0h.9v.9h-.9zM139.7,398.1h.9v.9h-.9zM117.4,376.8h.9v.9h-.9zM131.8,393.5h.9v.9h-.9zM125.6,389.8h.9v.9h-.9zM98.6,386.5h.9v.9h-.9zM73.9,423.9h.9v.9h-.9zM114.5,366.5h.9v.9h-.9zM116.1,392.7h.9v.9h-.9zM112.2,361.2h.9v.9h-.9zM121.0,388.6h.9v.9h-.9zM103.9,377.3h.9v.9h-.9zM111.8,385.3h.9v.9h-.9zM99.3,391.3h.9v.9h-.9zM78.9,422.3h.9v.9h-.9zM105.0,370.1h.9v.9h-.9zM121.1,387.3h.9v.9h-.9zM108.3,379.2h.9v.9h-.9zM102.2,379.9h.9v.9h-.9zM111.9,376.6h.9v.9h-.9zM121.1,378.8h.9v.9h-.9zM116.4,378.1h.9v.9h-.9zM118.0,364.5h.9v.9h-.9zM109.1,392.1h.9v.9h-.9zM129.6,387.8h.9v.9h-.9zM129.7,393.2h.9v.9h-.9zM119.4,388.1h.9v.9h-.9zM118.3,387.6h.9v.9h-.9zM106.1,365.3h.9v.9h-.9zM82.9,374.9h.9v.9h-.9zM78.7,438.4h.9v.9h-.9zM113.1,373.5h.9v.9h-.9zM77.3,425.1h.9v.9h-.9zM117.1,375.9h.9v.9h-.9zM101.5,390.8h.9v.9h-.9zM125.1,374.5h.9v.9h-.9zM123.9,401.7h.9v.9h-.9zM96.0,371.0h.9v.9h-.9zM112.0,401.1h.9v.9h-.9zM72.6,426.1h.9v.9h-.9zM68.6,447.5h.9v.9h-.9zM109.5,381.9h.9v.9h-.9zM105.3,375.5h.9v.9h-.9zM106.4,374.7h.9v.9h-.9zM123.6,367.6h.9v.9h-.9zM130.0,374.4h.9v.9h-.9zM123.9,394.7h.9v.9h-.9zM74.2,451.6h.9v.9h-.9zM122.2,378.3h.9v.9h-.9zM122.8,367.2h.9v.9h-.9zM114.7,398.8h.9v.9h-.9zM111.7,369.5h.9v.9h-.9zM124.4,385.0h.9v.9h-.9zM130.5,381.4h.9v.9h-.9zM125.0,375.4h.9v.9h-.9zM137.3,394.0h.9v.9h-.9zM108.5,387.8h.9v.9h-.9zM112.1,362.0h.9v.9h-.9zM114.0,370.2h.9v.9h-.9zM135.9,384.7h.9v.9h-.9zM121.0,389.0h.9v.9h-.9zM72.8,423.5h.9v.9h-.9zM91.3,367.7h.9v.9h-.9zM143.0,415.8h.9v.9h-.9zM72.0,431.8h.9v.9h-.9zM96.8,379.5h.9v.9h-.9zM106.7,377.5h.9v.9h-.9zM71.3,435.6h.9v.9h-.9zM132.5,394.6h.9v.9h-.9zM131.6,400.6h.9v.9h-.9zM110.3,388.3h.9v.9h-.9zM87.0,377.4h.9v.9h-.9zM138.0,386.9h.9v.9h-.9zM119.1,394.4h.9v.9h-.9zM105.0,394.8h.9v.9h-.9zM112.7,403.3h.9v.9h-.9zM122.8,399.9h.9v.9h-.9zM108.5,368.6h.9v.9h-.9zM93.4,383.0h.9v.9h-.9zM133.3,384.5h.9v.9h-.9zM85.8,381.3h.9v.9h-.9zM76.3,421.8h.9v.9h-.9zM102.9,392.4h.9v.9h-.9zM136.1,385.2h.9v.9h-.9zM117.3,405.3h.9v.9h-.9zM124.2,401.9h.9v.9h-.9zM108.9,360.5h.9v.9h-.9zM118.8,380.5h.9v.9h-.9zM76.0,438.4h.9v.9h-.9zM123.6,398.8h.9v.9h-.9zM89.7,374.5h.9v.9h-.9zM123.2,388.6h.9v.9h-.9zM108.8,373.7h.9v.9h-.9zM68.0,437.8h.9v.9h-.9zM130.3,391.8h.9v.9h-.9zM104.4,395.2h.9v.9h-.9zM120.3,398.3h.9v.9h-.9zM106.5,385.9h.9v.9h-.9zM77.2,424.7h.9v.9h-.9zM102.1,376.3h.9v.9h-.9zM127.8,389.8h.9v.9h-.9zM93.5,384.2h.9v.9h-.9zM92.2,372.7h.9v.9h-.9zM109.7,390.5h.9v.9h-.9zM136.7,389.2h.9v.9h-.9zM124.8,384.4h.9v.9h-.9zM93.6,378.2h.9v.9h-.9zM76.5,442.2h.9v.9h-.9zM128.7,396.3h.9v.9h-.9zM132.4,390.5h.9v.9h-.9zM137.7,386.5h.9v.9h-.9zM111.8,371.4h.9v.9h-.9zM109.6,371.2h.9v.9h-.9zM118.2,390.3h.9v.9h-.9zM99.4,375.2h.9v.9h-.9zM114.2,403.7h.9v.9h-.9zM97.9,386.4h.9v.9h-.9zM119.8,402.8h.9v.9h-.9zM120.7,378.8h.9v.9h-.9zM121.0,398.7h.9v.9h-.9zM73.9,432.8h.9v.9h-.9zM107.3,376.4h.9v.9h-.9zM100.4,373.4h.9v.9h-.9zM115.6,379.8h.9v.9h-.9zM106.6,386.0h.9v.9h-.9zM128.9,392.3h.9v.9h-.9zM111.7,389.8h.9v.9h-.9zM130.5,388.9h.9v.9h-.9zM74.6,456.4h.9v.9h-.9zM114.5,366.3h.9v.9h-.9zM116.8,364.4h.9v.9h-.9zM78.9,437.0h.9v.9h-.9zM99.0,388.8h.9v.9h-.9zM122.5,375.5h.9v.9h-.9zM75.3,444.1h.9v.9h-.9zM108.2,393.4h.9v.9h-.9zM101.1,374.0h.9v.9h-.9zM120.6,373.2h.9v.9h-.9zM117.1,397.7h.9v.9h-.9zM73.6,443.0h.9v.9h-.9zM92.0,376.8h.9v.9h-.9zM105.6,368.3h.9v.9h-.9zM112.4,382.5h.9v.9h-.9zM106.4,399.5h.9v.9h-.9zM123.4,375.3h.9v.9h-.9zM110.3,386.0h.9v.9h-.9zM78.0,425.6h.9v.9h-.9zM126.8,391.3h.9v.9h-.9zM134.4,391.9h.9v.9h-.9zM109.7,361.4h.9v.9h-.9zM141.6,403.2h.9v.9h-.9zM129.6,388.2h.9v.9h-.9zM89.6,373.7h.9v.9h-.9zM72.2,451.1h.9v.9h-.9zM117.8,384.7h.9v.9h-.9zM123.0,397.9h.9v.9h-.9zM107.5,394.7h.9v.9h-.9zM122.9,388.1h.9v.9h-.9zM117.7,393.3h.9v.9h-.9zM130.7,399.7h.9v.9h-.9zM87.6,383.8h.9v.9h-.9zM109.7,397.8h.9v.9h-.9zM102.7,378.8h.9v.9h-.9zM107.4,385.6h.9v.9h-.9zM123.0,383.2h.9v.9h-.9zM114.5,387.8h.9v.9h-.9zM107.0,373.9h.9v.9h-.9zM103.8,389.3h.9v.9h-.9zM112.4,384.4h.9v.9h-.9zM142.7,414.4h.9v.9h-.9zM97.2,375.1h.9v.9h-.9zM106.3,383.8h.9v.9h-.9zM100.2,373.5h.9v.9h-.9zM103.1,387.6h.9v.9h-.9zM133.1,396.8h.9v.9h-.9zM123.0,378.6h.9v.9h-.9zM116.4,371.8h.9v.9h-.9zM129.9,400.8h.9v.9h-.9zM107.1,399.7h.9v.9h-.9zM105.6,383.8h.9v.9h-.9zM104.4,382.4h.9v.9h-.9zM117.8,362.9h.9v.9h-.9zM97.8,377.8h.9v.9h-.9zM73.8,444.2h.9v.9h-.9zM95.1,365.7h.9v.9h-.9zM113.7,365.0h.9v.9h-.9zM134.1,399.8h.9v.9h-.9zM107.2,399.7h.9v.9h-.9zM131.4,389.1h.9v.9h-.9zM138.5,392.8h.9v.9h-.9zM122.8,373.1h.9v.9h-.9zM95.1,382.1h.9v.9h-.9zM105.8,392.4h.9v.9h-.9zM127.7,395.5h.9v.9h-.9zM126.1,393.2h.9v.9h-.9zM116.2,386.6h.9v.9h-.9zM74.1,428.5h.9v.9h-.9zM142.0,424.3h.9v.9h-.9zM129.3,388.3h.9v.9h-.9zM113.9,380.4h.9v.9h-.9zM97.0,363.9h.9v.9h-.9zM106.6,391.6h.9v.9h-.9zM113.2,393.7h.9v.9h-.9zM121.1,383.2h.9v.9h-.9zM109.8,379.5h.9v.9h-.9zM116.3,373.1h.9v.9h-.9zM84.1,378.1h.9v.9h-.9zM119.1,371.9h.9v.9h-.9zM115.5,399.8h.9v.9h-.9zM131.7,380.3h.9v.9h-.9zM101.0,375.2h.9v.9h-.9zM129.1,394.1h.9v.9h-.9zM102.8,381.0h.9v.9h-.9zM116.1,402.3h.9v.9h-.9zM103.6,382.9h.9v.9h-.9zM102.7,363.4h.9v.9h-.9zM100.1,376.8h.9v.9h-.9zM110.4,380.8h.9v.9h-.9zM125.1,387.2h.9v.9h-.9zM113.5,384.4h.9v.9h-.9zM108.2,372.7h.9v.9h-.9zM117.7,390.1h.9v.9h-.9zM118.9,379.3h.9v.9h-.9zM122.9,368.2h.9v.9h-.9zM111.0,362.3h.9v.9h-.9zM132.2,403.2h.9v.9h-.9zM130.3,386.3h.9v.9h-.9zM104.6,389.5h.9v.9h-.9zM123.3,391.3h.9v.9h-.9zM109.9,385.6h.9v.9h-.9zM105.4,390.1h.9v.9h-.9zM117.5,395.0h.9v.9h-.9zM97.8,387.7h.9v.9h-.9zM126.1,390.5h.9v.9h-.9zM118.5,379.7h.9v.9h-.9zM103.5,381.8h.9v.9h-.9zM123.8,378.7h.9v.9h-.9zM95.4,377.9h.9v.9h-.9zM120.4,397.3h.9v.9h-.9zM113.5,367.9h.9v.9h-.9zM133.3,399.5h.9v.9h-.9zM76.3,428.0h.9v.9h-.9zM103.2,365.9h.9v.9h-.9zM96.8,378.2h.9v.9h-.9zM110.3,389.5h.9v.9h-.9zM107.6,367.1h.9v.9h-.9zM67.4,450.3h.9v.9h-.9zM105.3,372.6h.9v.9h-.9zM122.5,379.6h.9v.9h-.9zM77.8,431.0h.9v.9h-.9zM126.0,386.5h.9v.9h-.9zM127.6,387.4h.9v.9h-.9zM87.8,370.7h.9v.9h-.9zM109.7,370.8h.9v.9h-.9zM121.1,404.1h.9v.9h-.9zM104.0,390.2h.9v.9h-.9zM71.9,446.9h.9v.9h-.9zM108.5,375.7h.9v.9h-.9zM132.9,386.0h.9v.9h-.9zM130.6,391.5h.9v.9h-.9zM114.5,396.8h.9v.9h-.9zM119.6,378.7h.9v.9h-.9zM85.0,378.0h.9v.9h-.9zM98.1,371.4h.9v.9h-.9zM105.0,378.8h.9v.9h-.9zM95.7,375.7h.9v.9h-.9zM127.7,387.5h.9v.9h-.9zM111.6,382.2h.9v.9h-.9zM72.0,442.5h.9v.9h-.9zM71.6,432.6h.9v.9h-.9zM121.4,376.4h.9v.9h-.9zM121.5,395.3h.9v.9h-.9zM115.5,382.4h.9v.9h-.9zM110.3,373.0h.9v.9h-.9zM97.0,362.0h.9v.9h-.9zM125.6,387.7h.9v.9h-.9zM122.1,389.2h.9v.9h-.9zM87.6,381.6h.9v.9h-.9zM120.7,388.5h.9v.9h-.9zM96.4,366.5h.9v.9h-.9zM113.9,387.9h.9v.9h-.9zM69.7,450.9h.9v.9h-.9zM69.3,445.1h.9v.9h-.9zM110.5,387.7h.9v.9h-.9zM77.6,433.8h.9v.9h-.9zM91.9,378.1h.9v.9h-.9zM116.9,376.9h.9v.9h-.9zM128.9,388.7h.9v.9h-.9zM92.4,375.1h.9v.9h-.9zM132.1,388.1h.9v.9h-.9zM72.8,444.2h.9v.9h-.9zM117.0,398.7h.9v.9h-.9zM74.7,450.2h.9v.9h-.9zM108.7,394.0h.9v.9h-.9zM105.9,381.6h.9v.9h-.9zM77.0,422.4h.9v.9h-.9zM114.3,365.7h.9v.9h-.9zM104.7,373.2h.9v.9h-.9zM130.8,379.9h.9v.9h-.9zM114.1,381.6h.9v.9h-.9zM72.1,441.2h.9v.9h-.9zM114.5,380.6h.9v.9h-.9zM124.0,375.0h.9v.9h-.9zM106.2,377.5h.9v.9h-.9zM104.6,372.0h.9v.9h-.9zM77.7,441.8h.9v.9h-.9zM141.4,411.7h.9v.9h-.9zM116.8,385.1h.9v.9h-.9zM123.5,396.3h.9v.9h-.9zM114.4,363.5h.9v.9h-.9zM116.6,387.4h.9v.9h-.9zM129.6,382.4h.9v.9h-.9zM112.5,386.5h.9v.9h-.9zM107.2,383.9h.9v.9h-.9zM130.9,386.3h.9v.9h-.9zM111.6,384.3h.9v.9h-.9zM143.1,426.1h.9v.9h-.9zM74.5,426.8h.9v.9h-.9zM124.8,386.8h.9v.9h-.9zM126.7,385.7h.9v.9h-.9zM114.8,391.7h.9v.9h-.9zM110.9,377.7h.9v.9h-.9zM143.1,411.4h.9v.9h-.9zM134.0,389.2h.9v.9h-.9zM86.9,377.6h.9v.9h-.9zM70.2,450.5h.9v.9h-.9zM85.5,378.2h.9v.9h-.9zM104.9,390.8h.9v.9h-.9zM108.2,383.6h.9v.9h-.9zM108.2,368.3h.9v.9h-.9zM116.3,377.6h.9v.9h-.9zM113.4,394.9h.9v.9h-.9zM128.5,397.8h.9v.9h-.9zM74.7,440.1h.9v.9h-.9zM94.5,371.3h.9v.9h-.9zM119.6,380.5h.9v.9h-.9zM114.3,396.9h.9v.9h-.9zM77.8,437.6h.9v.9h-.9zM105.0,380.0h.9v.9h-.9zM96.8,379.2h.9v.9h-.9zM123.9,390.0h.9v.9h-.9zM96.3,371.7h.9v.9h-.9zM136.9,389.5h.9v.9h-.9zM108.8,384.5h.9v.9h-.9zM120.3,387.1h.9v.9h-.9zM110.9,381.1h.9v.9h-.9zM105.5,380.9h.9v.9h-.9zM91.9,368.7h.9v.9h-.9zM77.6,429.4h.9v.9h-.9zM121.1,371.9h.9v.9h-.9zM74.0,440.7h.9v.9h-.9zM111.6,394.0h.9v.9h-.9zM103.0,363.8h.9v.9h-.9zM95.5,365.9h.9v.9h-.9zM114.3,400.8h.9v.9h-.9zM120.9,404.0h.9v.9h-.9zM117.5,374.7h.9v.9h-.9zM87.0,374.0h.9v.9h-.9zM128.3,387.4h.9v.9h-.9zM129.5,394.7h.9v.9h-.9zM108.0,396.0h.9v.9h-.9zM126.9,380.9h.9v.9h-.9zM101.4,381.4h.9v.9h-.9zM134.0,393.8h.9v.9h-.9zM117.7,371.8h.9v.9h-.9zM113.1,373.7h.9v.9h-.9zM97.7,390.6h.9v.9h-.9zM133.9,389.7h.9v.9h-.9zM115.3,395.9h.9v.9h-.9zM121.3,379.7h.9v.9h-.9zM93.6,376.6h.9v.9h-.9zM98.9,383.6h.9v.9h-.9zM94.7,378.5h.9v.9h-.9zM110.7,399.3h.9v.9h-.9zM117.2,377.5h.9v.9h-.9zM114.2,387.1h.9v.9h-.9zM86.0,369.4h.9v.9h-.9zM122.4,393.7h.9v.9h-.9zM96.6,371.7h.9v.9h-.9zM123.9,392.8h.9v.9h-.9zM113.6,386.1h.9v.9h-.9zM88.2,378.6h.9v.9h-.9zM122.6,391.6h.9v.9h-.9zM113.1,368.4h.9v.9h-.9zM128.5,377.2h.9v.9h-.9zM88.3,380.6h.9v.9h-.9zM127.6,399.8h.9v.9h-.9zM124.5,392.6h.9v.9h-.9zM117.1,376.3h.9v.9h-.9zM131.6,385.0h.9v.9h-.9zM108.4,365.2h.9v.9h-.9zM136.1,382.4h.9v.9h-.9zM126.4,380.3h.9v.9h-.9zM125.1,393.4h.9v.9h-.9zM131.1,391.9h.9v.9h-.9zM121.8,381.2h.9v.9h-.9zM76.3,449.2h.9v.9h-.9zM121.9,382.8h.9v.9h-.9zM118.2,375.2h.9v.9h-.9zM71.5,455.5h.9v.9h-.9zM115.0,369.7h.9v.9h-.9zM122.1,406.0h.9v.9h-.9zM138.7,396.6h.9v.9h-.9zM73.9,433.7h.9v.9h-.9zM120.5,388.3h.9v.9h-.9zM123.0,404.6h.9v.9h-.9zM106.0,383.7h.9v.9h-.9zM71.2,432.1h.9v.9h-.9zM121.6,396.7h.9v.9h-.9zM106.4,397.1h.9v.9h-.9zM122.2,373.9h.9v.9h-.9zM122.8,385.4h.9v.9h-.9zM109.5,380.9h.9v.9h-.9zM129.7,379.7h.9v.9h-.9zM101.4,386.8h.9v.9h-.9zM107.3,388.1h.9v.9h-.9zM69.5,437.7h.9v.9h-.9zM124.3,377.0h.9v.9h-.9zM77.5,445.6h.9v.9h-.9zM126.4,375.2h.9v.9h-.9zM133.7,401.0h.9v.9h-.9zM116.9,390.7h.9v.9h-.9zM102.2,381.7h.9v.9h-.9zM129.1,400.4h.9v.9h-.9zM73.3,442.6h.9v.9h-.9zM126.2,380.4h.9v.9h-.9zM90.8,367.2h.9v.9h-.9zM105.3,379.5h.9v.9h-.9zM128.6,391.6h.9v.9h-.9zM122.9,381.8h.9v.9h-.9zM100.2,377.1h.9v.9h-.9zM135.3,380.7h.9v.9h-.9zM123.5,382.6h.9v.9h-.9zM144.6,420.5h.9v.9h-.9zM135.3,382.7h.9v.9h-.9zM100.0,387.3h.9v.9h-.9zM69.5,454.9h.9v.9h-.9zM127.4,400.0h.9v.9h-.9zM114.7,382.7h.9v.9h-.9zM115.9,366.5h.9v.9h-.9zM130.3,381.2h.9v.9h-.9zM76.6,422.2h.9v.9h-.9zM89.7,366.2h.9v.9h-.9zM108.4,378.0h.9v.9h-.9zM117.9,391.4h.9v.9h-.9zM106.1,389.5h.9v.9h-.9zM120.5,388.0h.9v.9h-.9zM73.3,442.1h.9v.9h-.9zM68.0,443.8h.9v.9h-.9zM143.9,410.0h.9v.9h-.9zM91.9,378.4h.9v.9h-.9zM110.0,380.1h.9v.9h-.9zM111.2,374.7h.9v.9h-.9zM107.1,373.1h.9v.9h-.9zM117.8,362.8h.9v.9h-.9zM119.6,376.9h.9v.9h-.9zM117.2,381.6h.9v.9h-.9zM111.9,367.5h.9v.9h-.9zM95.3,372.7h.9v.9h-.9zM116.2,379.2h.9v.9h-.9zM116.5,386.4h.9v.9h-.9zM104.3,361.7h.9v.9h-.9zM109.2,380.0h.9v.9h-.9zM123.0,400.3h.9v.9h-.9zM78.0,438.4h.9v.9h-.9zM135.7,383.8h.9v.9h-.9zM96.7,365.6h.9v.9h-.9zM77.1,440.7h.9v.9h-.9zM99.7,388.8h.9v.9h-.9zM112.5,389.6h.9v.9h-.9zM128.8,379.6h.9v.9h-.9zM97.5,386.1h.9v.9h-.9zM104.0,368.3h.9v.9h-.9zM102.9,367.3h.9v.9h-.9zM109.7,363.2h.9v.9h-.9zM78.3,428.2h.9v.9h-.9zM126.4,387.3h.9v.9h-.9zM125.8,393.1h.9v.9h-.9zM120.5,367.7h.9v.9h-.9zM109.4,377.6h.9v.9h-.9zM122.8,386.7h.9v.9h-.9zM119.3,363.2h.9v.9h-.9zM109.6,372.9h.9v.9h-.9zM116.8,388.3h.9v.9h-.9zM106.1,364.6h.9v.9h-.9zM112.8,390.8h.9v.9h-.9zM119.4,400.9h.9v.9h-.9zM121.4,387.0h.9v.9h-.9zM88.4,368.5h.9v.9h-.9zM75.8,446.1h.9v.9h-.9zM116.2,387.8h.9v.9h-.9zM70.4,437.0h.9v.9h-.9zM89.4,380.5h.9v.9h-.9zM115.5,395.5h.9v.9h-.9zM122.2,398.0h.9v.9h-.9zM122.5,394.3h.9v.9h-.9zM133.6,393.9h.9v.9h-.9zM98.8,377.3h.9v.9h-.9zM107.3,387.3h.9v.9h-.9zM84.4,380.6h.9v.9h-.9zM109.9,402.4h.9v.9h-.9zM121.0,384.0h.9v.9h-.9zM127.7,378.9h.9v.9h-.9zM95.9,374.9h.9v.9h-.9zM104.6,371.8h.9v.9h-.9zM111.4,383.4h.9v.9h-.9zM68.7,437.8h.9v.9h-.9zM105.3,379.3h.9v.9h-.9zM101.8,390.6h.9v.9h-.9zM109.4,389.1h.9v.9h-.9zM132.6,378.6h.9v.9h-.9zM132.7,394.7h.9v.9h-.9zM100.6,390.0h.9v.9h-.9zM117.6,382.8h.9v.9h-.9zM99.0,373.9h.9v.9h-.9zM100.4,381.1h.9v.9h-.9zM110.2,393.8h.9v.9h-.9zM118.6,384.8h.9v.9h-.9zM71.2,433.9h.9v.9h-.9zM122.9,369.7h.9v.9h-.9zM107.2,382.8h.9v.9h-.9zM132.6,391.6h.9v.9h-.9zM110.5,362.3h.9v.9h-.9zM122.4,405.6h.9v.9h-.9zM114.4,382.7h.9v.9h-.9zM121.7,389.1h.9v.9h-.9zM74.2,426.1h.9v.9h-.9zM116.4,376.4h.9v.9h-.9zM97.3,365.5h.9v.9h-.9zM130.2,382.9h.9v.9h-.9zM80.2,431.3h.9v.9h-.9zM123.9,383.1h.9v.9h-.9zM69.8,446.8h.9v.9h-.9zM133.5,382.6h.9v.9h-.9zM102.7,382.3h.9v.9h-.9zM112.6,368.8h.9v.9h-.9zM69.9,448.4h.9v.9h-.9zM99.5,391.5h.9v.9h-.9zM126.3,388.5h.9v.9h-.9zM125.2,393.2h.9v.9h-.9zM124.5,387.1h.9v.9h-.9zM92.8,364.6h.9v.9h-.9zM123.1,379.3h.9v.9h-.9zM115.1,378.3h.9v.9h-.9zM123.0,384.6h.9v.9h-.9zM113.8,371.0h.9v.9h-.9zM73.9,454.7h.9v.9h-.9zM111.3,371.5h.9v.9h-.9zM120.7,401.4h.9v.9h-.9zM115.0,367.0h.9v.9h-.9zM105.9,381.3h.9v.9h-.9zM75.6,446.1h.9v.9h-.9zM134.5,392.8h.9v.9h-.9zM114.0,379.9h.9v.9h-.9zM97.3,364.5h.9v.9h-.9zM99.1,366.5h.9v.9h-.9zM106.6,363.0h.9v.9h-.9zM122.7,384.9h.9v.9h-.9zM94.1,368.3h.9v.9h-.9zM89.5,373.6h.9v.9h-.9zM96.4,377.3h.9v.9h-.9zM128.2,395.3h.9v.9h-.9zM112.5,390.8h.9v.9h-.9zM99.7,383.6h.9v.9h-.9zM110.7,378.0h.9v.9h-.9zM121.4,367.8h.9v.9h-.9zM121.8,386.2h.9v.9h-.9zM115.5,365.8h.9v.9h-.9zM127.3,392.6h.9v.9h-.9zM78.3,429.4h.9v.9h-.9zM110.5,390.4h.9v.9h-.9zM119.3,393.6h.9v.9h-.9zM81.7,428.5h.9v.9h-.9zM76.0,450.0h.9v.9h-.9zM131.5,380.9h.9v.9h-.9zM113.9,370.8h.9v.9h-.9zM96.1,379.1h.9v.9h-.9zM99.3,375.9h.9v.9h-.9zM97.1,369.4h.9v.9h-.9zM123.8,386.3h.9v.9h-.9zM101.9,382.1h.9v.9h-.9zM128.8,392.5h.9v.9h-.9zM117.0,381.4h.9v.9h-.9zM123.9,367.7h.9v.9h-.9zM116.3,379.4h.9v.9h-.9zM128.3,379.7h.9v.9h-.9zM119.4,382.8h.9v.9h-.9zM112.7,390.0h.9v.9h-.9zM114.0,392.2h.9v.9h-.9zM103.5,373.5h.9v.9h-.9zM114.6,402.1h.9v.9h-.9zM100.3,365.5h.9v.9h-.9zM123.6,375.0h.9v.9h-.9zM109.3,379.3h.9v.9h-.9zM72.0,434.3h.9v.9h-.9zM68.2,437.9h.9v.9h-.9zM100.5,391.7h.9v.9h-.9zM107.7,398.5h.9v.9h-.9zM110.9,380.5h.9v.9h-.9zM102.7,387.3h.9v.9h-.9zM120.0,396.9h.9v.9h-.9zM113.9,376.9h.9v.9h-.9zM72.8,445.5h.9v.9h-.9zM100.2,392.4h.9v.9h-.9zM89.0,370.3h.9v.9h-.9zM128.2,377.6h.9v.9h-.9zM113.4,384.8h.9v.9h-.9zM72.0,427.7h.9v.9h-.9zM108.1,364.7h.9v.9h-.9zM109.2,364.2h.9v.9h-.9zM121.8,394.8h.9v.9h-.9zM120.7,404.3h.9v.9h-.9zM120.2,375.6h.9v.9h-.9zM107.8,374.1h.9v.9h-.9zM105.5,373.7h.9v.9h-.9zM132.1,382.6h.9v.9h-.9zM73.8,449.9h.9v.9h-.9zM110.2,366.0h.9v.9h-.9zM133.8,396.8h.9v.9h-.9zM121.7,389.5h.9v.9h-.9zM125.1,403.1h.9v.9h-.9zM109.1,382.8h.9v.9h-.9zM117.0,375.7h.9v.9h-.9zM125.9,385.5h.9v.9h-.9zM109.0,398.2h.9v.9h-.9zM97.1,363.9h.9v.9h-.9zM125.7,377.7h.9v.9h-.9zM76.3,425.1h.9v.9h-.9zM118.1,375.6h.9v.9h-.9zM95.7,386.1h.9v.9h-.9zM117.1,372.3h.9v.9h-.9zM111.6,389.7h.9v.9h-.9zM118.4,386.7h.9v.9h-.9zM112.2,375.3h.9v.9h-.9zM131.9,382.4h.9v.9h-.9zM119.4,379.3h.9v.9h-.9zM131.4,403.0h.9v.9h-.9zM80.9,431.4h.9v.9h-.9zM116.9,389.1h.9v.9h-.9zM126.8,397.3h.9v.9h-.9zM98.6,363.0h.9v.9h-.9zM119.3,390.1h.9v.9h-.9zM122.2,397.1h.9v.9h-.9zM117.2,376.6h.9v.9h-.9zM127.6,386.8h.9v.9h-.9zM128.8,390.5h.9v.9h-.9zM115.6,381.2h.9v.9h-.9zM125.3,398.3h.9v.9h-.9zM116.4,375.9h.9v.9h-.9zM117.9,382.6h.9v.9h-.9zM141.2,418.0h.9v.9h-.9zM124.3,366.4h.9v.9h-.9zM118.8,384.5h.9v.9h-.9zM135.5,395.1h.9v.9h-.9zM117.1,366.5h.9v.9h-.9zM122.2,386.1h.9v.9h-.9zM137.2,391.1h.9v.9h-.9zM113.2,391.9h.9v.9h-.9zM128.4,390.8h.9v.9h-.9zM112.2,361.1h.9v.9h-.9zM119.9,382.1h.9v.9h-.9zM114.7,389.6h.9v.9h-.9zM125.0,387.1h.9v.9h-.9zM105.0,366.9h.9v.9h-.9zM92.9,376.6h.9v.9h-.9zM118.4,397.8h.9v.9h-.9zM127.1,400.9h.9v.9h-.9zM116.2,387.0h.9v.9h-.9zM128.1,382.7h.9v.9h-.9zM116.8,381.8h.9v.9h-.9zM111.4,393.2h.9v.9h-.9zM99.7,373.0h.9v.9h-.9zM123.8,384.5h.9v.9h-.9zM111.7,370.5h.9v.9h-.9zM109.9,391.5h.9v.9h-.9zM107.5,369.6h.9v.9h-.9zM123.7,380.8h.9v.9h-.9zM113.8,365.1h.9v.9h-.9zM132.1,382.5h.9v.9h-.9zM100.7,385.3h.9v.9h-.9zM114.3,405.1h.9v.9h-.9zM100.3,371.0h.9v.9h-.9zM126.1,394.4h.9v.9h-.9zM103.1,385.8h.9v.9h-.9zM110.1,390.1h.9v.9h-.9zM96.6,373.4h.9v.9h-.9zM126.4,401.8h.9v.9h-.9zM126.2,387.8h.9v.9h-.9zM124.4,371.3h.9v.9h-.9zM120.3,397.7h.9v.9h-.9zM79.1,429.3h.9v.9h-.9zM70.0,450.5h.9v.9h-.9zM104.9,373.5h.9v.9h-.9zM123.3,365.8h.9v.9h-.9zM116.9,365.7h.9v.9h-.9zM129.7,395.2h.9v.9h-.9zM101.7,380.4h.9v.9h-.9zM127.4,398.6h.9v.9h-.9zM97.4,377.8h.9v.9h-.9zM142.6,418.1h.9v.9h-.9zM101.6,377.8h.9v.9h-.9zM98.3,372.6h.9v.9h-.9zM130.9,378.9h.9v.9h-.9zM92.5,375.0h.9v.9h-.9zM86.3,379.3h.9v.9h-.9zM99.2,369.5h.9v.9h-.9zM111.7,366.1h.9v.9h-.9z" fill="#3a58c2"/>
<path d="M66.8,460.4h.9v.9h-.9zM147.2,424.3h.9v.9h-.9zM114.8,354.7h.9v.9h-.9zM121.2,361.1h.9v.9h-.9zM88.2,358.8h.9v.9h-.9zM79.6,449.6h.9v.9h-.9zM72.1,419.7h.9v.9h-.9zM134.6,407.4h.9v.9h-.9zM107.2,355.8h.9v.9h-.9zM138.9,423.1h.9v.9h-.9zM81.0,381.2h.9v.9h-.9zM112.7,360.2h.9v.9h-.9zM78.3,456.1h.9v.9h-.9zM126.6,363.9h.9v.9h-.9zM93.5,393.7h.9v.9h-.9zM145.2,418.0h.9v.9h-.9zM99.0,361.2h.9v.9h-.9zM137.2,378.6h.9v.9h-.9zM133.0,374.9h.9v.9h-.9zM71.8,460.5h.9v.9h-.9zM141.6,427.8h.9v.9h-.9zM128.8,408.7h.9v.9h-.9zM138.7,405.0h.9v.9h-.9zM144.2,391.8h.9v.9h-.9zM140.3,376.1h.9v.9h-.9zM119.4,359.4h.9v.9h-.9zM97.4,360.8h.9v.9h-.9zM132.2,366.0h.9v.9h-.9zM91.6,390.0h.9v.9h-.9zM123.0,408.4h.9v.9h-.9zM107.5,360.0h.9v.9h-.9zM124.9,365.0h.9v.9h-.9zM108.3,359.6h.9v.9h-.9zM117.4,358.4h.9v.9h-.9zM87.3,358.5h.9v.9h-.9zM114.2,355.2h.9v.9h-.9zM140.8,396.0h.9v.9h-.9zM137.3,400.0h.9v.9h-.9zM146.6,436.2h.9v.9h-.9zM82.4,389.0h.9v.9h-.9zM117.9,361.9h.9v.9h-.9zM88.5,364.6h.9v.9h-.9zM118.6,408.1h.9v.9h-.9zM121.1,359.9h.9v.9h-.9zM140.5,423.1h.9v.9h-.9zM146.4,434.5h.9v.9h-.9zM77.9,445.7h.9v.9h-.9zM72.7,420.7h.9v.9h-.9zM144.1,434.6h.9v.9h-.9zM127.2,413.0h.9v.9h-.9zM75.6,385.9h.9v.9h-.9zM140.2,381.0h.9v.9h-.9zM80.6,446.2h.9v.9h-.9zM133.9,370.5h.9v.9h-.9zM140.5,406.9h.9v.9h-.9zM138.0,373.2h.9v.9h-.9zM144.6,423.8h.9v.9h-.9zM75.7,456.4h.9v.9h-.9zM88.7,358.7h.9v.9h-.9zM74.6,416.5h.9v.9h-.9zM70.2,458.0h.9v.9h-.9zM139.7,419.9h.9v.9h-.9zM103.8,401.6h.9v.9h-.9zM140.9,395.3h.9v.9h-.9zM141.0,433.8h.9v.9h-.9zM73.6,377.3h.9v.9h-.9zM140.0,424.6h.9v.9h-.9zM129.2,408.6h.9v.9h-.9zM136.6,371.5h.9v.9h-.9zM102.2,397.8h.9v.9h-.9zM79.2,445.4h.9v.9h-.9zM66.3,458.6h.9v.9h-.9zM135.5,367.2h.9v.9h-.9zM92.8,360.4h.9v.9h-.9zM81.7,416.9h.9v.9h-.9zM136.3,404.7h.9v.9h-.9zM122.8,364.8h.9v.9h-.9zM112.7,359.7h.9v.9h-.9zM128.8,407.5h.9v.9h-.9zM131.2,407.2h.9v.9h-.9zM92.4,396.7h.9v.9h-.9zM145.2,416.4h.9v.9h-.9zM69.0,423.1h.9v.9h-.9zM77.2,453.4h.9v.9h-.9zM123.0,411.4h.9v.9h-.9zM82.4,418.8h.9v.9h-.9zM89.3,361.3h.9v.9h-.9zM72.0,418.0h.9v.9h-.9zM69.8,426.8h.9v.9h-.9zM98.2,357.0h.9v.9h-.9zM113.1,352.8h.9v.9h-.9zM117.3,353.7h.9v.9h-.9zM85.0,419.5h.9v.9h-.9zM105.0,356.4h.9v.9h-.9zM140.2,431.6h.9v.9h-.9zM119.0,361.4h.9v.9h-.9zM80.6,369.2h.9v.9h-.9zM84.2,357.1h.9v.9h-.9zM79.0,380.4h.9v.9h-.9zM142.8,433.8h.9v.9h-.9zM143.6,443.2h.9v.9h-.9zM81.3,421.0h.9v.9h-.9zM79.9,385.1h.9v.9h-.9zM140.5,375.9h.9v.9h-.9zM146.7,415.4h.9v.9h-.9zM117.0,357.1h.9v.9h-.9zM129.9,369.7h.9v.9h-.9zM84.4,384.9h.9v.9h-.9zM79.4,364.0h.9v.9h-.9zM79.0,364.4h.9v.9h-.9zM101.8,354.9h.9v.9h-.9zM135.2,374.7h.9v.9h-.9zM135.3,367.0h.9v.9h-.9zM107.6,356.3h.9v.9h-.9zM69.6,423.1h.9v.9h-.9zM119.4,358.0h.9v.9h-.9zM137.3,414.6h.9v.9h-.9zM118.1,408.1h.9v.9h-.9zM64.8,436.2h.9v.9h-.9zM142.0,438.4h.9v.9h-.9zM81.6,438.1h.9v.9h-.9zM81.8,416.8h.9v.9h-.9zM144.1,436.5h.9v.9h-.9zM77.9,455.5h.9v.9h-.9zM146.6,407.7h.9v.9h-.9zM97.8,356.1h.9v.9h-.9zM65.8,438.1h.9v.9h-.9zM108.5,359.8h.9v.9h-.9zM93.8,359.2h.9v.9h-.9zM120.8,362.8h.9v.9h-.9zM78.1,418.6h.9v.9h-.9zM143.2,437.6h.9v.9h-.9zM88.3,359.9h.9v.9h-.9zM141.1,396.4h.9v.9h-.9zM105.6,359.9h.9v.9h-.9zM83.2,422.8h.9v.9h-.9zM122.0,409.9h.9v.9h-.9zM84.5,394.1h.9v.9h-.9zM85.9,387.6h.9v.9h-.9zM96.6,391.7h.9v.9h-.9zM144.8,391.1h.9v.9h-.9zM140.5,423.4h.9v.9h-.9zM126.1,358.6h.9v.9h-.9zM141.2,425.0h.9v.9h-.9zM89.2,358.4h.9v.9h-.9zM86.2,387.9h.9v.9h-.9zM134.4,374.4h.9v.9h-.9zM140.3,395.9h.9v.9h-.9zM115.7,356.0h.9v.9h-.9zM137.7,383.0h.9v.9h-.9zM131.9,374.1h.9v.9h-.9zM145.0,413.9h.9v.9h-.9zM92.7,356.1h.9v.9h-.9zM142.3,437.4h.9v.9h-.9zM91.9,391.0h.9v.9h-.9zM140.9,378.3h.9v.9h-.9zM133.4,367.7h.9v.9h-.9zM82.6,418.1h.9v.9h-.9zM87.6,387.3h.9v.9h-.9zM89.3,357.4h.9v.9h-.9zM87.0,393.6h.9v.9h-.9zM105.9,359.0h.9v.9h-.9zM121.5,361.3h.9v.9h-.9zM64.6,437.6h.9v.9h-.9zM88.7,389.7h.9v.9h-.9zM126.2,365.3h.9v.9h-.9zM83.5,381.5h.9v.9h-.9zM93.6,390.1h.9v.9h-.9zM107.7,353.0h.9v.9h-.9zM92.6,395.7h.9v.9h-.9zM75.4,419.6h.9v.9h-.9zM94.3,357.2h.9v.9h-.9zM146.5,417.1h.9v.9h-.9zM116.9,411.5h.9v.9h-.9zM142.3,436.2h.9v.9h-.9zM114.3,360.6h.9v.9h-.9zM141.6,436.9h.9v.9h-.9zM142.3,430.7h.9v.9h-.9zM140.9,431.7h.9v.9h-.9zM137.2,406.0h.9v.9h-.9zM132.2,371.5h.9v.9h-.9zM102.4,359.8h.9v.9h-.9zM79.7,416.5h.9v.9h-.9zM84.3,382.3h.9v.9h-.9zM140.9,401.6h.9v.9h-.9zM138.8,373.3h.9v.9h-.9zM146.1,391.1h.9v.9h-.9zM117.2,356.5h.9v.9h-.9zM80.6,379.6h.9v.9h-.9zM144.4,405.3h.9v.9h-.9zM75.0,419.3h.9v.9h-.9zM69.2,456.2h.9v.9h-.9zM136.9,378.5h.9v.9h-.9zM65.2,455.6h.9v.9h-.9zM119.4,409.3h.9v.9h-.9zM79.5,448.8h.9v.9h-.9zM133.8,408.7h.9v.9h-.9zM82.5,430.0h.9v.9h-.9zM147.3,402.0h.9v.9h-.9zM78.1,450.6h.9v.9h-.9zM142.1,445.6h.9v.9h-.9zM137.4,407.6h.9v.9h-.9zM110.6,354.9h.9v.9h-.9zM145.6,423.6h.9v.9h-.9zM115.1,411.9h.9v.9h-.9zM144.3,428.7h.9v.9h-.9zM110.6,359.3h.9v.9h-.9zM135.4,405.1h.9v.9h-.9zM130.5,360.1h.9v.9h-.9zM134.3,377.0h.9v.9h-.9zM138.1,412.4h.9v.9h-.9zM112.9,406.0h.9v.9h-.9zM83.1,421.5h.9v.9h-.9zM146.1,407.6h.9v.9h-.9zM65.8,439.0h.9v.9h-.9zM108.8,356.0h.9v.9h-.9zM141.2,388.6h.9v.9h-.9zM103.7,357.0h.9v.9h-.9zM84.1,424.0h.9v.9h-.9zM110.1,353.1h.9v.9h-.9zM127.4,357.1h.9v.9h-.9zM144.6,406.1h.9v.9h-.9zM110.5,354.7h.9v.9h-.9zM76.6,417.4h.9v.9h-.9zM146.2,431.5h.9v.9h-.9zM84.1,380.8h.9v.9h-.9zM146.2,415.1h.9v.9h-.9zM121.0,359.2h.9v.9h-.9zM120.9,413.2h.9v.9h-.9zM96.1,359.4h.9v.9h-.9zM131.4,360.3h.9v.9h-.9zM140.8,400.8h.9v.9h-.9zM127.9,409.4h.9v.9h-.9zM124.7,359.2h.9v.9h-.9zM80.4,437.3h.9v.9h-.9zM143.9,428.0h.9v.9h-.9zM77.8,374.6h.9v.9h-.9zM125.5,357.1h.9v.9h-.9zM115.5,360.4h.9v.9h-.9zM136.8,382.4h.9v.9h-.9zM127.9,360.2h.9v.9h-.9zM76.2,373.5h.9v.9h-.9zM129.2,408.6h.9v.9h-.9zM104.9,359.2h.9v.9h-.9zM146.6,436.9h.9v.9h-.9zM114.0,360.1h.9v.9h-.9zM127.2,359.9h.9v.9h-.9zM136.3,379.9h.9v.9h-.9zM139.2,411.4h.9v.9h-.9zM87.9,357.2h.9v.9h-.9zM132.5,405.4h.9v.9h-.9zM136.0,406.8h.9v.9h-.9zM134.2,374.9h.9v.9h-.9zM78.7,447.4h.9v.9h-.9zM84.7,359.5h.9v.9h-.9zM76.2,381.3h.9v.9h-.9zM88.3,365.2h.9v.9h-.9zM145.0,416.0h.9v.9h-.9zM139.0,416.6h.9v.9h-.9zM92.9,361.1h.9v.9h-.9zM127.4,365.2h.9v.9h-.9zM142.1,430.8h.9v.9h-.9zM79.5,380.9h.9v.9h-.9zM83.0,381.1h.9v.9h-.9zM81.0,389.6h.9v.9h-.9zM77.5,460.0h.9v.9h-.9zM74.2,414.4h.9v.9h-.9zM82.2,375.2h.9v.9h-.9zM79.3,375.5h.9v.9h-.9zM139.4,412.2h.9v.9h-.9zM75.0,382.6h.9v.9h-.9zM80.7,360.0h.9v.9h-.9zM135.1,406.2h.9v.9h-.9zM146.8,432.8h.9v.9h-.9zM93.5,361.7h.9v.9h-.9zM136.9,407.9h.9v.9h-.9zM137.8,385.1h.9v.9h-.9zM144.1,399.7h.9v.9h-.9zM86.9,391.9h.9v.9h-.9zM129.0,369.4h.9v.9h-.9zM109.4,357.0h.9v.9h-.9zM82.8,370.1h.9v.9h-.9zM68.3,427.3h.9v.9h-.9zM143.7,403.7h.9v.9h-.9zM106.4,360.0h.9v.9h-.9zM65.0,452.4h.9v.9h-.9zM144.6,424.4h.9v.9h-.9zM126.4,412.2h.9v.9h-.9zM146.1,403.7h.9v.9h-.9zM74.5,420.2h.9v.9h-.9zM140.1,394.1h.9v.9h-.9zM142.1,433.1h.9v.9h-.9zM82.7,363.3h.9v.9h-.9zM82.4,376.5h.9v.9h-.9zM77.9,415.5h.9v.9h-.9zM66.5,435.8h.9v.9h-.9zM146.6,434.9h.9v.9h-.9zM126.4,363.4h.9v.9h-.9zM80.7,418.7h.9v.9h-.9zM144.1,445.1h.9v.9h-.9zM88.2,361.3h.9v.9h-.9zM140.8,392.0h.9v.9h-.9zM130.3,359.0h.9v.9h-.9zM134.9,403.0h.9v.9h-.9zM136.3,375.7h.9v.9h-.9zM64.3,451.4h.9v.9h-.9zM94.8,358.5h.9v.9h-.9zM72.5,422.7h.9v.9h-.9zM138.9,434.0h.9v.9h-.9zM138.9,401.5h.9v.9h-.9zM84.9,427.3h.9v.9h-.9zM140.4,417.2h.9v.9h-.9zM81.4,364.7h.9v.9h-.9zM139.9,404.1h.9v.9h-.9zM102.5,360.5h.9v.9h-.9zM121.2,355.8h.9v.9h-.9zM95.0,360.3h.9v.9h-.9zM84.3,367.2h.9v.9h-.9zM73.8,416.4h.9v.9h-.9zM78.8,382.4h.9v.9h-.9zM73.2,418.2h.9v.9h-.9zM82.2,425.7h.9v.9h-.9zM145.0,402.4h.9v.9h-.9zM83.1,383.3h.9v.9h-.9zM69.8,421.1h.9v.9h-.9zM135.0,378.9h.9v.9h-.9zM83.8,383.2h.9v.9h-.9zM107.1,406.8h.9v.9h-.9zM99.5,393.6h.9v.9h-.9zM78.8,372.2h.9v.9h-.9zM85.1,425.9h.9v.9h-.9zM140.5,421.6h.9v.9h-.9zM146.2,421.1h.9v.9h-.9zM77.4,372.7h.9v.9h-.9zM104.7,352.2h.9v.9h-.9zM140.8,423.2h.9v.9h-.9zM95.7,361.8h.9v.9h-.9zM96.7,397.8h.9v.9h-.9zM132.0,371.4h.9v.9h-.9zM145.7,432.5h.9v.9h-.9zM87.0,362.9h.9v.9h-.9zM79.7,441.3h.9v.9h-.9zM125.3,411.7h.9v.9h-.9zM84.6,381.9h.9v.9h-.9zM127.9,367.0h.9v.9h-.9zM145.1,396.3h.9v.9h-.9zM84.0,382.3h.9v.9h-.9zM142.2,431.0h.9v.9h-.9zM106.7,351.9h.9v.9h-.9zM141.0,381.6h.9v.9h-.9zM137.6,411.2h.9v.9h-.9zM120.1,362.5h.9v.9h-.9zM127.5,362.6h.9v.9h-.9zM117.1,361.0h.9v.9h-.9zM90.2,358.7h.9v.9h-.9zM83.6,362.1h.9v.9h-.9zM118.6,409.9h.9v.9h-.9zM74.7,383.3h.9v.9h-.9zM142.4,433.6h.9v.9h-.9zM139.6,406.0h.9v.9h-.9zM83.0,366.7h.9v.9h-.9zM119.4,361.6h.9v.9h-.9zM138.4,374.3h.9v.9h-.9zM119.2,361.6h.9v.9h-.9zM140.7,433.0h.9v.9h-.9zM135.1,401.7h.9v.9h-.9zM84.8,385.7h.9v.9h-.9zM88.5,388.3h.9v.9h-.9zM77.5,364.5h.9v.9h-.9zM79.9,439.0h.9v.9h-.9zM138.8,380.4h.9v.9h-.9zM83.4,364.8h.9v.9h-.9zM117.7,407.6h.9v.9h-.9zM91.5,390.7h.9v.9h-.9zM106.4,357.4h.9v.9h-.9zM93.7,361.3h.9v.9h-.9zM142.3,387.4h.9v.9h-.9zM84.4,369.5h.9v.9h-.9zM134.2,374.2h.9v.9h-.9zM84.9,364.1h.9v.9h-.9zM67.6,455.9h.9v.9h-.9zM68.9,459.2h.9v.9h-.9zM138.3,422.1h.9v.9h-.9zM138.9,380.7h.9v.9h-.9zM71.0,458.8h.9v.9h-.9zM75.8,416.9h.9v.9h-.9zM96.3,395.9h.9v.9h-.9zM88.2,385.6h.9v.9h-.9zM80.9,441.8h.9v.9h-.9zM119.0,408.3h.9v.9h-.9zM112.9,405.5h.9v.9h-.9zM81.6,361.4h.9v.9h-.9zM139.9,407.1h.9v.9h-.9zM120.1,413.6h.9v.9h-.9zM128.5,369.7h.9v.9h-.9zM135.3,402.6h.9v.9h-.9zM148.1,422.9h.9v.9h-.9zM145.4,414.7h.9v.9h-.9zM89.3,361.7h.9v.9h-.9zM67.6,426.8h.9v.9h-.9zM143.0,443.0h.9v.9h-.9zM78.1,373.7h.9v.9h-.9zM82.3,391.0h.9v.9h-.9zM111.8,404.9h.9v.9h-.9zM68.5,459.0h.9v.9h-.9zM141.0,420.5h.9v.9h-.9zM114.0,407.4h.9v.9h-.9zM137.1,382.7h.9v.9h-.9zM132.0,360.8h.9v.9h-.9zM76.0,368.6h.9v.9h-.9zM146.9,422.0h.9v.9h-.9zM120.6,413.3h.9v.9h-.9zM80.2,413.2h.9v.9h-.9zM64.9,446.1h.9v.9h-.9zM70.4,458.2h.9v.9h-.9zM77.8,417.3h.9v.9h-.9zM147.8,427.6h.9v.9h-.9zM85.7,365.1h.9v.9h-.9zM80.9,433.2h.9v.9h-.9zM97.9,360.7h.9v.9h-.9zM85.1,425.1h.9v.9h-.9zM67.3,455.8h.9v.9h-.9zM146.8,405.4h.9v.9h-.9zM80.1,418.7h.9v.9h-.9zM134.2,373.7h.9v.9h-.9zM78.4,368.7h.9v.9h-.9zM122.7,408.6h.9v.9h-.9zM69.5,459.0h.9v.9h-.9zM141.7,432.9h.9v.9h-.9zM91.5,388.6h.9v.9h-.9zM140.1,406.1h.9v.9h-.9zM139.9,385.7h.9v.9h-.9zM84.7,430.2h.9v.9h-.9zM75.7,376.5h.9v.9h-.9zM106.4,359.7h.9v.9h-.9zM109.6,358.3h.9v.9h-.9zM81.8,375.6h.9v.9h-.9zM129.1,363.4h.9v.9h-.9zM78.8,368.2h.9v.9h-.9zM81.4,433.6h.9v.9h-.9zM127.4,410.1h.9v.9h-.9zM74.1,417.5h.9v.9h-.9zM116.5,356.9h.9v.9h-.9zM75.6,374.5h.9v.9h-.9zM128.5,362.4h.9v.9h-.9zM91.1,362.3h.9v.9h-.9zM140.2,433.6h.9v.9h-.9zM76.8,369.7h.9v.9h-.9zM136.8,379.5h.9v.9h-.9zM78.1,417.5h.9v.9h-.9zM141.5,380.9h.9v.9h-.9zM140.7,389.8h.9v.9h-.9zM100.8,358.8h.9v.9h-.9zM84.1,382.9h.9v.9h-.9zM140.5,387.8h.9v.9h-.9zM123.4,409.4h.9v.9h-.9zM116.7,408.0h.9v.9h-.9zM132.8,403.8h.9v.9h-.9zM81.7,370.9h.9v.9h-.9zM139.7,376.7h.9v.9h-.9zM128.9,408.1h.9v.9h-.9zM139.2,409.8h.9v.9h-.9zM103.9,402.5h.9v.9h-.9zM111.8,357.5h.9v.9h-.9zM145.1,392.9h.9v.9h-.9zM112.0,353.3h.9v.9h-.9zM146.8,400.0h.9v.9h-.9zM105.6,354.8h.9v.9h-.9zM88.5,361.0h.9v.9h-.9zM83.3,390.4h.9v.9h-.9zM137.6,370.6h.9v.9h-.9zM84.0,366.6h.9v.9h-.9zM140.1,409.1h.9v.9h-.9zM81.7,374.7h.9v.9h-.9zM79.8,369.6h.9v.9h-.9zM95.0,359.4h.9v.9h-.9zM95.7,394.6h.9v.9h-.9zM80.2,416.0h.9v.9h-.9zM141.2,430.8h.9v.9h-.9zM140.1,424.4h.9v.9h-.9zM80.8,440.7h.9v.9h-.9zM82.7,435.4h.9v.9h-.9zM76.7,419.2h.9v.9h-.9zM100.8,395.8h.9v.9h-.9zM139.6,410.2h.9v.9h-.9zM141.6,387.7h.9v.9h-.9zM83.5,419.5h.9v.9h-.9zM118.3,361.1h.9v.9h-.9zM106.6,401.9h.9v.9h-.9zM110.9,404.8h.9v.9h-.9zM79.0,418.7h.9v.9h-.9zM145.5,402.1h.9v.9h-.9zM135.0,369.5h.9v.9h-.9zM138.8,383.9h.9v.9h-.9zM79.6,385.0h.9v.9h-.9zM108.5,404.3h.9v.9h-.9zM147.0,413.7h.9v.9h-.9zM81.5,416.9h.9v.9h-.9zM141.5,391.6h.9v.9h-.9zM133.1,407.1h.9v.9h-.9zM116.6,358.7h.9v.9h-.9zM80.0,363.8h.9v.9h-.9zM134.6,375.4h.9v.9h-.9zM94.6,389.6h.9v.9h-.9zM68.0,457.7h.9v.9h-.9zM85.0,358.4h.9v.9h-.9zM78.5,378.6h.9v.9h-.9zM77.0,414.0h.9v.9h-.9zM140.4,430.9h.9v.9h-.9zM140.4,387.2h.9v.9h-.9zM141.3,378.8h.9v.9h-.9zM79.9,369.4h.9v.9h-.9zM78.7,367.2h.9v.9h-.9zM66.4,453.6h.9v.9h-.9zM82.8,361.6h.9v.9h-.9zM92.3,388.7h.9v.9h-.9zM79.7,374.0h.9v.9h-.9zM88.2,394.0h.9v.9h-.9zM98.6,393.6h.9v.9h-.9zM137.1,375.9h.9v.9h-.9zM133.5,364.8h.9v.9h-.9zM98.7,361.0h.9v.9h-.9zM82.7,429.6h.9v.9h-.9zM106.7,402.8h.9v.9h-.9zM71.6,424.2h.9v.9h-.9zM140.9,413.7h.9v.9h-.9zM127.2,360.5h.9v.9h-.9zM142.2,401.4h.9v.9h-.9zM80.4,386.5h.9v.9h-.9zM145.5,429.8h.9v.9h-.9zM89.2,364.5h.9v.9h-.9zM140.6,422.3h.9v.9h-.9zM136.3,412.8h.9v.9h-.9zM122.4,356.2h.9v.9h-.9zM132.7,370.6h.9v.9h-.9zM139.8,403.4h.9v.9h-.9zM87.9,361.3h.9v.9h-.9zM102.1,399.6h.9v.9h-.9zM142.5,395.2h.9v.9h-.9zM87.3,365.8h.9v.9h-.9zM88.6,387.2h.9v.9h-.9zM109.1,404.5h.9v.9h-.9zM63.7,442.2h.9v.9h-.9zM142.3,442.8h.9v.9h-.9zM100.0,400.4h.9v.9h-.9zM84.7,367.4h.9v.9h-.9zM74.6,456.8h.9v.9h-.9zM141.9,431.1h.9v.9h-.9zM130.1,410.4h.9v.9h-.9zM89.0,358.0h.9v.9h-.9zM78.5,378.8h.9v.9h-.9zM74.9,371.5h.9v.9h-.9zM87.3,361.9h.9v.9h-.9zM100.3,360.0h.9v.9h-.9zM145.4,419.2h.9v.9h-.9zM145.3,395.2h.9v.9h-.9zM95.9,396.4h.9v.9h-.9zM75.2,369.3h.9v.9h-.9zM114.0,355.6h.9v.9h-.9zM146.0,428.8h.9v.9h-.9zM143.0,434.4h.9v.9h-.9zM140.3,401.9h.9v.9h-.9zM89.0,389.0h.9v.9h-.9zM76.7,455.9h.9v.9h-.9zM123.5,361.2h.9v.9h-.9zM99.9,397.2h.9v.9h-.9zM119.7,362.7h.9v.9h-.9zM90.0,396.5h.9v.9h-.9zM87.0,364.2h.9v.9h-.9zM147.0,404.8h.9v.9h-.9zM85.4,385.3h.9v.9h-.9zM144.6,433.1h.9v.9h-.9zM147.5,417.1h.9v.9h-.9zM103.6,400.1h.9v.9h-.9zM129.3,367.2h.9v.9h-.9zM135.2,379.2h.9v.9h-.9zM141.8,444.2h.9v.9h-.9zM80.8,361.7h.9v.9h-.9zM134.5,373.0h.9v.9h-.9zM130.6,371.2h.9v.9h-.9zM98.2,354.5h.9v.9h-.9zM80.7,441.1h.9v.9h-.9zM70.6,420.0h.9v.9h-.9zM68.4,455.0h.9v.9h-.9zM111.5,358.9h.9v.9h-.9zM91.5,362.4h.9v.9h-.9zM119.4,354.4h.9v.9h-.9zM82.5,423.9h.9v.9h-.9zM75.3,456.2h.9v.9h-.9zM66.2,444.9h.9v.9h-.9zM95.7,353.3h.9v.9h-.9zM96.2,358.2h.9v.9h-.9zM141.1,383.1h.9v.9h-.9zM136.2,370.6h.9v.9h-.9zM75.1,369.7h.9v.9h-.9zM135.0,410.9h.9v.9h-.9zM80.8,371.3h.9v.9h-.9zM96.5,355.7h.9v.9h-.9zM74.9,367.4h.9v.9h-.9zM77.0,453.1h.9v.9h-.9zM91.4,357.4h.9v.9h-.9zM81.8,373.5h.9v.9h-.9zM130.7,364.1h.9v.9h-.9zM135.0,403.7h.9v.9h-.9zM85.6,362.5h.9v.9h-.9zM147.7,410.8h.9v.9h-.9zM137.7,381.1h.9v.9h-.9zM78.3,447.8h.9v.9h-.9zM139.5,427.8h.9v.9h-.9zM71.5,419.3h.9v.9h-.9zM66.7,434.8h.9v.9h-.9zM123.4,408.2h.9v.9h-.9zM143.5,397.9h.9v.9h-.9zM140.9,427.3h.9v.9h-.9zM140.5,414.3h.9v.9h-.9zM139.9,415.5h.9v.9h-.9zM86.7,387.9h.9v.9h-.9zM113.8,352.3h.9v.9h-.9zM139.6,406.2h.9v.9h-.9z" fill="#5a74cc"/>
<path d="M150.5,440.6h.9v.9h-.9zM82.7,439.4h.9v.9h-.9zM84.7,356.6h.9v.9h-.9zM140.4,366.7h.9v.9h-.9zM133.7,415.3h.9v.9h-.9zM68.4,383.8h.9v.9h-.9zM142.5,458.9h.9v.9h-.9zM76.6,361.1h.9v.9h-.9zM67.6,363.1h.9v.9h-.9zM118.4,345.4h.9v.9h-.9zM72.9,363.9h.9v.9h-.9zM70.9,386.2h.9v.9h-.9zM142.6,453.9h.9v.9h-.9zM148.7,446.9h.9v.9h-.9zM151.3,383.9h.9v.9h-.9zM79.7,393.4h.9v.9h-.9zM137.5,452.0h.9v.9h-.9zM69.0,375.2h.9v.9h-.9zM85.9,353.8h.9v.9h-.9zM72.0,400.1h.9v.9h-.9zM94.8,405.9h.9v.9h-.9zM148.4,439.3h.9v.9h-.9zM74.5,365.2h.9v.9h-.9zM73.2,413.5h.9v.9h-.9zM91.8,353.2h.9v.9h-.9zM109.5,343.4h.9v.9h-.9zM69.3,418.5h.9v.9h-.9zM65.8,421.7h.9v.9h-.9zM122.0,416.4h.9v.9h-.9zM134.0,350.5h.9v.9h-.9zM120.9,415.2h.9v.9h-.9zM73.0,383.9h.9v.9h-.9zM83.3,395.4h.9v.9h-.9zM79.5,399.5h.9v.9h-.9zM71.2,359.9h.9v.9h-.9zM137.9,369.6h.9v.9h-.9zM144.2,355.7h.9v.9h-.9zM79.0,405.9h.9v.9h-.9zM64.6,395.5h.9v.9h-.9zM70.5,368.8h.9v.9h-.9zM85.6,395.3h.9v.9h-.9zM80.8,392.6h.9v.9h-.9zM63.1,440.7h.9v.9h-.9zM88.0,396.8h.9v.9h-.9zM89.8,427.6h.9v.9h-.9zM147.0,386.7h.9v.9h-.9zM65.4,393.1h.9v.9h-.9zM148.0,435.5h.9v.9h-.9zM76.4,395.2h.9v.9h-.9zM147.9,400.0h.9v.9h-.9zM70.6,368.4h.9v.9h-.9zM146.5,457.7h.9v.9h-.9zM84.3,417.0h.9v.9h-.9zM148.8,395.6h.9v.9h-.9zM135.1,452.6h.9v.9h-.9zM103.0,428.4h.9v.9h-.9zM74.8,410.4h.9v.9h-.9zM71.0,380.3h.9v.9h-.9zM124.4,415.5h.9v.9h-.9zM67.2,373.7h.9v.9h-.9zM55.1,366.5h.9v.9h-.9zM82.3,354.3h.9v.9h-.9zM116.2,426.9h.9v.9h-.9zM88.2,426.9h.9v.9h-.9zM94.0,350.7h.9v.9h-.9zM87.1,355.1h.9v.9h-.9zM67.3,417.8h.9v.9h-.9zM141.7,447.6h.9v.9h-.9zM119.6,350.8h.9v.9h-.9zM72.2,377.9h.9v.9h-.9zM74.2,360.0h.9v.9h-.9zM75.1,401.4h.9v.9h-.9zM84.2,412.2h.9v.9h-.9zM148.7,451.1h.9v.9h-.9zM105.2,347.2h.9v.9h-.9zM107.6,407.9h.9v.9h-.9zM138.4,355.8h.9v.9h-.9zM119.5,350.8h.9v.9h-.9zM137.4,420.9h.9v.9h-.9zM146.0,355.6h.9v.9h-.9zM144.1,368.9h.9v.9h-.9zM72.9,401.1h.9v.9h-.9zM98.4,347.2h.9v.9h-.9zM144.7,454.5h.9v.9h-.9zM66.7,370.0h.9v.9h-.9zM61.4,445.0h.9v.9h-.9zM64.2,455.3h.9v.9h-.9zM75.4,407.1h.9v.9h-.9zM107.6,421.9h.9v.9h-.9zM62.7,454.0h.9v.9h-.9zM66.8,377.1h.9v.9h-.9zM70.6,393.9h.9v.9h-.9zM62.7,384.6h.9v.9h-.9zM69.3,383.0h.9v.9h-.9zM123.8,347.9h.9v.9h-.9zM71.2,400.5h.9v.9h-.9zM137.0,417.2h.9v.9h-.9zM83.4,396.5h.9v.9h-.9zM56.6,384.4h.9v.9h-.9zM100.5,405.1h.9v.9h-.9zM151.0,418.3h.9v.9h-.9zM78.9,354.7h.9v.9h-.9zM82.4,406.0h.9v.9h-.9zM57.0,444.8h.9v.9h-.9zM78.9,356.5h.9v.9h-.9zM95.1,348.4h.9v.9h-.9zM115.5,420.8h.9v.9h-.9zM147.1,373.4h.9v.9h-.9zM63.6,452.2h.9v.9h-.9zM79.2,358.4h.9v.9h-.9zM146.2,387.6h.9v.9h-.9zM128.7,347.3h.9v.9h-.9zM71.4,383.8h.9v.9h-.9zM116.5,341.6h.9v.9h-.9zM79.3,351.3h.9v.9h-.9zM137.2,366.8h.9v.9h-.9zM147.6,369.7h.9v.9h-.9zM139.6,441.7h.9v.9h-.9zM83.8,442.4h.9v.9h-.9zM82.4,408.4h.9v.9h-.9zM116.3,333.6h.9v.9h-.9zM82.7,438.8h.9v.9h-.9zM101.2,337.9h.9v.9h-.9zM61.6,382.1h.9v.9h-.9zM86.7,427.5h.9v.9h-.9zM83.3,437.3h.9v.9h-.9zM149.8,436.3h.9v.9h-.9zM134.4,339.9h.9v.9h-.9zM132.9,421.6h.9v.9h-.9zM120.7,423.6h.9v.9h-.9zM138.8,440.3h.9v.9h-.9zM149.4,395.0h.9v.9h-.9zM63.5,432.6h.9v.9h-.9zM64.9,410.0h.9v.9h-.9zM73.9,366.7h.9v.9h-.9zM145.7,443.7h.9v.9h-.9zM127.5,414.4h.9v.9h-.9zM81.6,451.0h.9v.9h-.9zM91.0,403.3h.9v.9h-.9zM73.4,413.9h.9v.9h-.9zM52.4,386.8h.9v.9h-.9zM102.5,428.2h.9v.9h-.9zM102.8,346.9h.9v.9h-.9zM64.4,379.8h.9v.9h-.9zM63.7,438.9h.9v.9h-.9zM73.7,363.6h.9v.9h-.9zM101.7,350.2h.9v.9h-.9zM88.7,407.0h.9v.9h-.9zM134.4,360.0h.9v.9h-.9zM128.5,351.4h.9v.9h-.9zM140.7,448.6h.9v.9h-.9zM66.3,383.8h.9v.9h-.9zM146.4,387.8h.9v.9h-.9zM146.9,385.2h.9v.9h-.9zM74.7,355.7h.9v.9h-.9zM84.8,405.5h.9v.9h-.9zM84.4,397.6h.9v.9h-.9zM71.3,364.9h.9v.9h-.9zM126.8,350.9h.9v.9h-.9zM98.8,348.6h.9v.9h-.9zM105.3,351.5h.9v.9h-.9zM85.5,353.2h.9v.9h-.9zM74.7,387.5h.9v.9h-.9zM146.6,384.5h.9v.9h-.9zM107.0,410.4h.9v.9h-.9zM149.5,428.2h.9v.9h-.9zM144.4,362.6h.9v.9h-.9zM135.0,349.6h.9v.9h-.9zM77.9,396.5h.9v.9h-.9zM73.7,387.5h.9v.9h-.9zM87.8,396.9h.9v.9h-.9zM72.8,361.8h.9v.9h-.9zM149.3,371.1h.9v.9h-.9zM94.0,346.9h.9v.9h-.9zM148.8,406.6h.9v.9h-.9zM84.1,408.7h.9v.9h-.9zM94.6,400.1h.9v.9h-.9zM122.4,415.6h.9v.9h-.9zM142.1,454.4h.9v.9h-.9zM85.9,419.4h.9v.9h-.9zM71.3,384.5h.9v.9h-.9zM109.3,351.4h.9v.9h-.9zM127.5,347.4h.9v.9h-.9zM111.9,415.8h.9v.9h-.9zM131.9,350.7h.9v.9h-.9zM83.1,347.5h.9v.9h-.9zM131.1,421.7h.9v.9h-.9zM115.6,330.3h.9v.9h-.9zM82.5,457.0h.9v.9h-.9zM68.2,415.8h.9v.9h-.9zM120.4,414.0h.9v.9h-.9zM147.6,453.3h.9v.9h-.9zM146.8,387.4h.9v.9h-.9zM86.7,431.0h.9v.9h-.9zM135.6,413.5h.9v.9h-.9zM83.7,442.8h.9v.9h-.9zM105.5,340.2h.9v.9h-.9zM138.0,369.6h.9v.9h-.9zM149.9,450.8h.9v.9h-.9zM118.4,415.1h.9v.9h-.9zM71.5,396.2h.9v.9h-.9zM151.1,410.0h.9v.9h-.9zM68.5,366.9h.9v.9h-.9zM77.1,361.3h.9v.9h-.9zM102.6,408.2h.9v.9h-.9zM119.0,418.5h.9v.9h-.9zM149.2,425.1h.9v.9h-.9zM83.2,354.5h.9v.9h-.9zM135.4,429.9h.9v.9h-.9zM126.0,417.4h.9v.9h-.9zM132.0,432.0h.9v.9h-.9zM80.3,346.1h.9v.9h-.9zM63.0,367.7h.9v.9h-.9zM139.7,440.5h.9v.9h-.9zM94.6,346.0h.9v.9h-.9zM75.9,346.5h.9v.9h-.9zM79.3,360.7h.9v.9h-.9zM112.3,344.5h.9v.9h-.9zM113.9,351.5h.9v.9h-.9zM137.2,436.8h.9v.9h-.9zM110.1,411.7h.9v.9h-.9zM146.7,450.5h.9v.9h-.9zM90.8,354.0h.9v.9h-.9zM83.3,349.2h.9v.9h-.9zM59.6,379.6h.9v.9h-.9zM151.3,414.4h.9v.9h-.9zM85.2,414.4h.9v.9h-.9zM144.5,450.6h.9v.9h-.9zM61.7,432.9h.9v.9h-.9zM93.1,400.0h.9v.9h-.9zM145.5,344.7h.9v.9h-.9zM136.8,424.5h.9v.9h-.9zM88.0,413.0h.9v.9h-.9zM91.8,351.7h.9v.9h-.9zM124.9,342.4h.9v.9h-.9zM148.4,431.1h.9v.9h-.9zM73.5,365.9h.9v.9h-.9zM130.0,435.5h.9v.9h-.9zM74.3,389.7h.9v.9h-.9zM96.0,406.6h.9v.9h-.9zM146.8,357.4h.9v.9h-.9zM59.6,361.2h.9v.9h-.9zM143.1,449.2h.9v.9h-.9zM80.9,395.1h.9v.9h-.9zM64.3,420.4h.9v.9h-.9zM118.1,344.5h.9v.9h-.9zM93.4,414.4h.9v.9h-.9zM85.6,411.4h.9v.9h-.9zM98.2,403.0h.9v.9h-.9zM138.8,439.4h.9v.9h-.9zM140.9,362.0h.9v.9h-.9zM137.2,458.0h.9v.9h-.9zM131.1,414.0h.9v.9h-.9zM79.1,457.4h.9v.9h-.9zM63.1,441.5h.9v.9h-.9zM109.8,348.2h.9v.9h-.9zM70.0,354.3h.9v.9h-.9zM88.0,399.1h.9v.9h-.9zM135.5,423.2h.9v.9h-.9zM146.4,363.9h.9v.9h-.9zM147.9,404.0h.9v.9h-.9zM73.6,410.6h.9v.9h-.9zM118.7,415.5h.9v.9h-.9zM134.0,415.0h.9v.9h-.9zM73.6,363.7h.9v.9h-.9zM135.2,343.0h.9v.9h-.9zM81.6,354.2h.9v.9h-.9zM83.9,446.8h.9v.9h-.9zM132.8,348.8h.9v.9h-.9zM60.8,365.5h.9v.9h-.9zM149.1,409.8h.9v.9h-.9zM71.2,404.0h.9v.9h-.9zM72.2,410.3h.9v.9h-.9zM137.4,365.7h.9v.9h-.9zM104.9,406.9h.9v.9h-.9zM110.0,343.7h.9v.9h-.9zM127.1,419.6h.9v.9h-.9zM124.2,345.0h.9v.9h-.9zM140.1,457.4h.9v.9h-.9zM110.7,413.4h.9v.9h-.9zM68.7,419.8h.9v.9h-.9zM149.0,372.4h.9v.9h-.9zM131.5,360.0h.9v.9h-.9zM68.4,416.5h.9v.9h-.9zM89.5,403.9h.9v.9h-.9zM75.9,406.7h.9v.9h-.9zM86.6,441.7h.9v.9h-.9zM84.4,417.4h.9v.9h-.9zM152.3,386.8h.9v.9h-.9zM149.2,358.4h.9v.9h-.9zM59.1,343.9h.9v.9h-.9zM138.8,346.4h.9v.9h-.9zM87.5,349.3h.9v.9h-.9zM140.8,353.0h.9v.9h-.9zM150.0,364.7h.9v.9h-.9zM64.1,454.7h.9v.9h-.9zM123.6,415.7h.9v.9h-.9zM120.5,340.0h.9v.9h-.9zM112.4,420.6h.9v.9h-.9zM149.3,453.1h.9v.9h-.9zM147.2,392.7h.9v.9h-.9zM147.7,393.6h.9v.9h-.9zM60.8,377.6h.9v.9h-.9zM82.6,357.7h.9v.9h-.9zM93.6,346.0h.9v.9h-.9zM100.4,401.7h.9v.9h-.9zM69.6,400.6h.9v.9h-.9zM60.8,457.5h.9v.9h-.9zM140.8,355.0h.9v.9h-.9zM96.6,400.5h.9v.9h-.9zM85.8,441.9h.9v.9h-.9zM65.9,396.6h.9v.9h-.9zM93.7,402.9h.9v.9h-.9zM123.3,346.6h.9v.9h-.9zM136.1,415.7h.9v.9h-.9zM129.1,351.5h.9v.9h-.9zM147.4,376.6h.9v.9h-.9zM106.1,345.5h.9v.9h-.9zM107.9,350.6h.9v.9h-.9zM64.3,431.8h.9v.9h-.9zM130.3,353.5h.9v.9h-.9zM67.2,380.2h.9v.9h-.9zM148.6,355.5h.9v.9h-.9zM131.0,412.5h.9v.9h-.9zM105.9,411.1h.9v.9h-.9zM138.4,370.5h.9v.9h-.9zM137.6,448.2h.9v.9h-.9zM141.5,353.0h.9v.9h-.9zM66.0,376.1h.9v.9h-.9zM64.6,425.8h.9v.9h-.9zM123.5,417.3h.9v.9h-.9zM99.3,346.4h.9v.9h-.9zM63.6,412.3h.9v.9h-.9zM86.6,342.3h.9v.9h-.9zM136.5,418.3h.9v.9h-.9zM64.3,371.2h.9v.9h-.9zM129.8,413.8h.9v.9h-.9zM129.3,351.9h.9v.9h-.9zM136.8,427.3h.9v.9h-.9zM149.2,392.2h.9v.9h-.9zM140.5,370.3h.9v.9h-.9zM116.3,417.3h.9v.9h-.9zM141.7,453.3h.9v.9h-.9zM76.6,396.8h.9v.9h-.9zM132.9,357.6h.9v.9h-.9zM135.6,459.5h.9v.9h-.9zM127.4,414.5h.9v.9h-.9zM109.5,350.2h.9v.9h-.9zM56.5,364.7h.9v.9h-.9zM100.1,344.6h.9v.9h-.9zM92.5,353.0h.9v.9h-.9zM73.7,414.0h.9v.9h-.9zM128.5,414.7h.9v.9h-.9zM119.4,418.0h.9v.9h-.9zM89.2,430.1h.9v.9h-.9zM70.8,387.3h.9v.9h-.9zM64.7,356.0h.9v.9h-.9zM77.0,353.8h.9v.9h-.9zM112.7,347.1h.9v.9h-.9zM80.4,453.1h.9v.9h-.9zM110.1,338.4h.9v.9h-.9zM58.7,442.6h.9v.9h-.9zM85.7,419.1h.9v.9h-.9zM149.5,438.5h.9v.9h-.9zM86.0,354.6h.9v.9h-.9zM86.0,395.7h.9v.9h-.9zM100.1,409.7h.9v.9h-.9zM69.1,394.2h.9v.9h-.9zM58.7,434.1h.9v.9h-.9zM135.0,361.8h.9v.9h-.9zM147.9,360.9h.9v.9h-.9zM60.7,450.8h.9v.9h-.9zM106.4,413.1h.9v.9h-.9zM128.7,348.0h.9v.9h-.9zM89.4,398.7h.9v.9h-.9zM73.8,366.3h.9v.9h-.9zM134.8,364.2h.9v.9h-.9zM63.3,436.1h.9v.9h-.9zM83.5,415.3h.9v.9h-.9zM82.5,459.0h.9v.9h-.9zM58.0,376.7h.9v.9h-.9zM142.6,453.7h.9v.9h-.9zM65.8,423.3h.9v.9h-.9zM107.8,344.8h.9v.9h-.9zM143.4,452.6h.9v.9h-.9zM140.9,369.8h.9v.9h-.9zM137.9,429.9h.9v.9h-.9zM146.0,451.3h.9v.9h-.9zM129.6,356.8h.9v.9h-.9z" fill="#8a9ad8"/>
<path d="M68,461 C66,448 68,433 74,423 C79,414 83,408 83,398 C83,390 79,384 80,376 C81,368 88,365 95,364.5 C102,364 108,368 110,375 C112,382 109,391 113,397 C118,401 130,402 139,405 C146,408 147.5,418 147.5,430 C147.5,442 147.5,452 147,461 Z" fill="#2d4db6" filter="url(#b1)"/>
<path d="M80,432 C80,420 87,414 94,414 C101,414 107,420 107,432 C107,444 103,450 102,461 L86,461 C85,450 80,444 80,432Z" fill="#3aa2dc" filter="url(#b2)"/>
<path d="M118.5,434 C118.5,421 124,415 131,415 C138,415 142.5,421 142.5,434 C142.5,446 140,452 139,461 L123,461 C122,452 118.5,446 118.5,434Z" fill="#3aa2dc" filter="url(#b2)"/>
<ellipse cx="111.5" cy="445" rx="6.5" ry="17" fill="#4aaee0" filter="url(#b2)"/>
<path d="M83.5,431 C83.5,421 88.5,418 94,418 C99.5,418 104.5,421 104.5,431 C104.5,441 99.5,447 98.5,461 L89.5,461 C88.5,447 83.5,441 83.5,431Z" fill="#6cc65a" filter="url(#b3)"/>
<path d="M123.5,435 C123.5,423 127,419 131.2,419 C135.5,419 139,423 139,435 C139,446 136,452 135,461 L127.5,461 C126.5,452 123.5,446 123.5,435Z" fill="#6cc65a" filter="url(#b3)"/>
<ellipse cx="94.4" cy="431.5" rx="5.2" ry="6.5" fill="#c8e040" filter="url(#b3)"/>
<ellipse cx="131.6" cy="434" rx="5" ry="12" fill="#e4dc38" filter="url(#b3)"/>
<ellipse cx="131.9" cy="433" rx="3.2" ry="8" fill="#f29030" filter="url(#b3)"/>
</g>
<line x1="79" y1="460.2" x2="126" y2="460.2" stroke="#c8502a" stroke-width="1"/>
<path d="M24.5,328.9 H156.4 V460.9" fill="none" stroke="#333" stroke-width="1.1"/>
<path d="M24.3,328.4 V460.9 H157" fill="none" stroke="#231f20" stroke-width="1.5"/>
<path d="M24.3,460.90h-3.2M24.30,460.9v3.2M24.3,450.94h-1.6M34.26,460.9v1.6M24.3,445.11h-1.6M40.09,460.9v1.6M24.3,440.97h-1.6M44.23,460.9v1.6M24.3,437.76h-1.6M47.44,460.9v1.6M24.3,435.14h-1.6M50.06,460.9v1.6M24.3,432.93h-1.6M52.27,460.9v1.6M24.3,431.01h-1.6M54.19,460.9v1.6M24.3,429.31h-1.6M55.89,460.9v1.6M24.3,427.80h-3.2M57.40,460.9v3.2M24.3,417.84h-1.6M67.36,460.9v1.6M24.3,412.01h-1.6M73.19,460.9v1.6M24.3,407.87h-1.6M77.33,460.9v1.6M24.3,404.66h-1.6M80.54,460.9v1.6M24.3,402.04h-1.6M83.16,460.9v1.6M24.3,399.83h-1.6M85.37,460.9v1.6M24.3,397.91h-1.6M87.29,460.9v1.6M24.3,396.21h-1.6M88.99,460.9v1.6M24.3,394.70h-3.2M90.50,460.9v3.2M24.3,384.74h-1.6M100.46,460.9v1.6M24.3,378.91h-1.6M106.29,460.9v1.6M24.3,374.77h-1.6M110.43,460.9v1.6M24.3,371.56h-1.6M113.64,460.9v1.6M24.3,368.94h-1.6M116.26,460.9v1.6M24.3,366.73h-1.6M118.47,460.9v1.6M24.3,364.81h-1.6M120.39,460.9v1.6M24.3,363.11h-1.6M122.09,460.9v1.6M24.3,361.60h-3.2M123.60,460.9v3.2M24.3,351.64h-1.6M133.56,460.9v1.6M24.3,345.81h-1.6M139.39,460.9v1.6M24.3,341.67h-1.6M143.53,460.9v1.6M24.3,338.46h-1.6M146.74,460.9v1.6M24.3,335.84h-1.6M149.36,460.9v1.6M24.3,333.63h-1.6M151.57,460.9v1.6M24.3,331.71h-1.6M153.49,460.9v1.6M24.3,330.01h-1.6M155.19,460.9v1.6" stroke="#231f20" stroke-width="1" fill="none"/>
<rect x="117.6" y="407.3" width="30.9" height="53.2" fill="none" stroke="#231f20" stroke-width="1.3"/>
<line x1="148.5" y1="409.8" x2="231" y2="409.8" stroke="#231f20" stroke-width="1.3"/>
<path d="M236.5,409.8 L229.5,405.6 L229.5,414 Z" fill="#231f20"/>
<text x="158.53" y="403.40" font-size="13.1" text-anchor="start" fill="#231f20">Mature cells</text>
<text x="0.00" y="0.00" font-size="11.4" text-anchor="start" fill="#231f20" transform="translate(16.26 460.43) rotate(-90) scale(1.22 1.0)">cKit</text>
<text x="34.66" y="477.90" font-size="12.5" text-anchor="start" fill="#231f20">Lin</text>
<text x="0.00" y="0.00" font-size="14.3" text-anchor="start" fill="#231f20" transform="translate(392.31 306.00) scale(1.0 0.92)">pERK1/2</text>
<rect x="287.40" y="332.20" width="126.80" height="127.40" fill="#fff" stroke="#6e6e6e" stroke-width="1.2"/>
<path d="M288.40,393.60C289.50,393.40 293.07,392.90 295.00,392.40C296.93,391.90 298.33,391.50 300.00,390.60C301.67,389.70 303.67,388.05 305.00,387.00C306.33,385.95 307.00,385.63 308.00,384.30C309.00,382.97 310.00,381.05 311.00,379.00C312.00,376.95 313.00,374.83 314.00,372.00C315.00,369.17 316.00,365.67 317.00,362.00C318.00,358.33 319.08,353.42 320.00,350.00C320.92,346.58 321.62,343.63 322.50,341.50C323.38,339.37 324.38,337.65 325.30,337.20C326.22,336.75 327.05,337.17 328.00,338.80C328.95,340.43 330.17,343.88 331.00,347.00C331.83,350.12 332.33,353.75 333.00,357.50C333.67,361.25 334.33,365.58 335.00,369.50C335.67,373.42 336.33,377.67 337.00,381.00C337.67,384.33 338.33,387.33 339.00,389.50C339.67,391.67 340.25,392.88 341.00,394.00C341.75,395.12 342.58,395.77 343.50,396.20C344.42,396.63 346.00,396.53 346.50,396.60L414.00,396.60 L414.00,396.90 L288.40,396.90Z" fill="#fff" stroke="none"/>
<path d="M288.40,393.60C289.50,393.40 293.07,392.90 295.00,392.40C296.93,391.90 298.33,391.50 300.00,390.60C301.67,389.70 303.67,388.05 305.00,387.00C306.33,385.95 307.00,385.63 308.00,384.30C309.00,382.97 310.00,381.05 311.00,379.00C312.00,376.95 313.00,374.83 314.00,372.00C315.00,369.17 316.00,365.67 317.00,362.00C318.00,358.33 319.08,353.42 320.00,350.00C320.92,346.58 321.62,343.63 322.50,341.50C323.38,339.37 324.38,337.65 325.30,337.20C326.22,336.75 327.05,337.17 328.00,338.80C328.95,340.43 330.17,343.88 331.00,347.00C331.83,350.12 332.33,353.75 333.00,357.50C333.67,361.25 334.33,365.58 335.00,369.50C335.67,373.42 336.33,377.67 337.00,381.00C337.67,384.33 338.33,387.33 339.00,389.50C339.67,391.67 340.25,392.88 341.00,394.00C341.75,395.12 342.58,395.77 343.50,396.20C344.42,396.63 346.00,396.53 346.50,396.60L414.00,396.60" fill="none" stroke="#ee6a74" stroke-width="1.15"/>
<path d="M288.40,428.00C294.00,428.00 315.40,428.08 322.00,428.00C328.60,427.92 326.17,428.00 328.00,427.50C329.83,427.00 331.50,426.42 333.00,425.00C334.50,423.58 335.83,421.50 337.00,419.00C338.17,416.50 339.08,413.50 340.00,410.00C340.92,406.50 341.67,402.33 342.50,398.00C343.33,393.67 344.17,387.92 345.00,384.00C345.83,380.08 346.67,376.92 347.50,374.50C348.33,372.08 349.20,370.50 350.00,369.50C350.80,368.50 351.50,368.42 352.30,368.50C353.10,368.58 353.98,368.92 354.80,370.00C355.62,371.08 356.45,372.83 357.20,375.00C357.95,377.17 358.63,379.83 359.30,383.00C359.97,386.17 360.50,390.00 361.20,394.00C361.90,398.00 362.70,402.75 363.50,407.00C364.30,411.25 365.17,416.50 366.00,419.50C366.83,422.50 367.67,423.68 368.50,425.00C369.33,426.32 370.08,426.90 371.00,427.40C371.92,427.90 373.50,427.90 374.00,428.00L414.00,428.00 L414.00,428.30 L288.40,428.30Z" fill="#fff" stroke="none"/>
<path d="M288.40,428.00C294.00,428.00 315.40,428.08 322.00,428.00C328.60,427.92 326.17,428.00 328.00,427.50C329.83,427.00 331.50,426.42 333.00,425.00C334.50,423.58 335.83,421.50 337.00,419.00C338.17,416.50 339.08,413.50 340.00,410.00C340.92,406.50 341.67,402.33 342.50,398.00C343.33,393.67 344.17,387.92 345.00,384.00C345.83,380.08 346.67,376.92 347.50,374.50C348.33,372.08 349.20,370.50 350.00,369.50C350.80,368.50 351.50,368.42 352.30,368.50C353.10,368.58 353.98,368.92 354.80,370.00C355.62,371.08 356.45,372.83 357.20,375.00C357.95,377.17 358.63,379.83 359.30,383.00C359.97,386.17 360.50,390.00 361.20,394.00C361.90,398.00 362.70,402.75 363.50,407.00C364.30,411.25 365.17,416.50 366.00,419.50C366.83,422.50 367.67,423.68 368.50,425.00C369.33,426.32 370.08,426.90 371.00,427.40C371.92,427.90 373.50,427.90 374.00,428.00L414.00,428.00" fill="none" stroke="#7482c8" stroke-width="1.15"/>
<path d="M288.40,459.20C292.33,459.20 306.73,459.35 312.00,459.20C317.27,459.05 317.67,458.83 320.00,458.30C322.33,457.77 324.17,457.22 326.00,456.00C327.83,454.78 329.50,453.17 331.00,451.00C332.50,448.83 333.75,446.33 335.00,443.00C336.25,439.67 337.30,435.58 338.50,431.00C339.70,426.42 340.95,419.92 342.20,415.50C343.45,411.08 344.62,407.28 346.00,404.50C347.38,401.72 349.08,399.13 350.50,398.80C351.92,398.47 353.17,400.30 354.50,402.50C355.83,404.70 357.25,407.92 358.50,412.00C359.75,416.08 360.92,422.17 362.00,427.00C363.08,431.83 364.08,437.00 365.00,441.00C365.92,445.00 366.75,448.42 367.50,451.00C368.25,453.58 368.75,455.20 369.50,456.50C370.25,457.80 371.08,458.35 372.00,458.80C372.92,459.25 374.50,459.13 375.00,459.20L414.00,459.20 L414.00,459.50 L288.40,459.50Z" fill="#fff" stroke="none"/>
<path d="M288.40,459.20C292.33,459.20 306.73,459.35 312.00,459.20C317.27,459.05 317.67,458.83 320.00,458.30C322.33,457.77 324.17,457.22 326.00,456.00C327.83,454.78 329.50,453.17 331.00,451.00C332.50,448.83 333.75,446.33 335.00,443.00C336.25,439.67 337.30,435.58 338.50,431.00C339.70,426.42 340.95,419.92 342.20,415.50C343.45,411.08 344.62,407.28 346.00,404.50C347.38,401.72 349.08,399.13 350.50,398.80C351.92,398.47 353.17,400.30 354.50,402.50C355.83,404.70 357.25,407.92 358.50,412.00C359.75,416.08 360.92,422.17 362.00,427.00C363.08,431.83 364.08,437.00 365.00,441.00C365.92,445.00 366.75,448.42 367.50,451.00C368.25,453.58 368.75,455.20 369.50,456.50C370.25,457.80 371.08,458.35 372.00,458.80C372.92,459.25 374.50,459.13 375.00,459.20L414.00,459.20" fill="none" stroke="#88c676" stroke-width="1.15"/>
<line x1="288.00" y1="334.00" x2="288.00" y2="393.80" stroke="#ee6a74" stroke-width="1.3"/>
<path d="M287.40,459.60v2.2M296.94,459.60v1.2M302.52,459.60v1.2M306.49,459.60v1.2M309.56,459.60v1.2M312.07,459.60v1.2M314.19,459.60v1.2M316.03,459.60v1.2M317.65,459.60v1.2M319.10,459.60v2.2M328.64,459.60v1.2M334.22,459.60v1.2M338.19,459.60v1.2M341.26,459.60v1.2M343.77,459.60v1.2M345.89,459.60v1.2M347.73,459.60v1.2M349.35,459.60v1.2M350.80,459.60v2.2M360.34,459.60v1.2M365.92,459.60v1.2M369.89,459.60v1.2M372.96,459.60v1.2M375.47,459.60v1.2M377.59,459.60v1.2M379.43,459.60v1.2M381.05,459.60v1.2M382.50,459.60v2.2M392.04,459.60v1.2M397.62,459.60v1.2M401.59,459.60v1.2M404.66,459.60v1.2M407.17,459.60v1.2M409.29,459.60v1.2M411.13,459.60v1.2M412.75,459.60v1.2" stroke="#777" stroke-width="0.8" fill="none"/>
<rect x="425.90" y="331.90" width="128.20" height="126.70" fill="#fff" stroke="#6e6e6e" stroke-width="1.2"/>
<path d="M426.60,393.40C427.79,393.25 431.52,393.07 433.75,392.50C435.98,391.93 438.12,391.17 440.00,390.00C441.88,388.83 443.42,387.50 445.00,385.50C446.58,383.50 448.08,380.92 449.50,378.00C450.92,375.08 452.25,371.83 453.50,368.00C454.75,364.17 455.92,359.00 457.00,355.00C458.08,351.00 459.00,346.83 460.00,344.00C461.00,341.17 462.23,339.13 463.00,338.00C463.77,336.87 463.93,336.95 464.60,337.20C465.27,337.45 466.18,337.70 467.00,339.50C467.82,341.30 468.75,344.92 469.50,348.00C470.25,351.08 470.83,354.50 471.50,358.00C472.17,361.50 472.83,365.33 473.50,369.00C474.17,372.67 474.83,376.50 475.50,380.00C476.17,383.50 476.83,387.57 477.50,390.00C478.17,392.43 478.75,393.58 479.50,394.60C480.25,395.62 481.08,395.82 482.00,396.10C482.92,396.38 484.50,396.27 485.00,396.30L554.00,396.30 L554.00,396.60 L426.60,396.60Z" fill="#fff" stroke="none"/>
<path d="M426.60,393.40C427.79,393.25 431.52,393.07 433.75,392.50C435.98,391.93 438.12,391.17 440.00,390.00C441.88,388.83 443.42,387.50 445.00,385.50C446.58,383.50 448.08,380.92 449.50,378.00C450.92,375.08 452.25,371.83 453.50,368.00C454.75,364.17 455.92,359.00 457.00,355.00C458.08,351.00 459.00,346.83 460.00,344.00C461.00,341.17 462.23,339.13 463.00,338.00C463.77,336.87 463.93,336.95 464.60,337.20C465.27,337.45 466.18,337.70 467.00,339.50C467.82,341.30 468.75,344.92 469.50,348.00C470.25,351.08 470.83,354.50 471.50,358.00C472.17,361.50 472.83,365.33 473.50,369.00C474.17,372.67 474.83,376.50 475.50,380.00C476.17,383.50 476.83,387.57 477.50,390.00C478.17,392.43 478.75,393.58 479.50,394.60C480.25,395.62 481.08,395.82 482.00,396.10C482.92,396.38 484.50,396.27 485.00,396.30L554.00,396.30" fill="none" stroke="#ee6a74" stroke-width="1.15"/>
<path d="M426.60,427.20C428.00,427.10 432.27,427.20 435.00,426.60C437.73,426.00 440.50,425.28 443.00,423.60C445.50,421.92 447.92,419.60 450.00,416.50C452.08,413.40 453.83,408.75 455.50,405.00C457.17,401.25 458.50,397.67 460.00,394.00C461.50,390.33 463.08,386.58 464.50,383.00C465.92,379.42 467.22,374.92 468.50,372.50C469.78,370.08 471.03,368.50 472.20,368.50C473.37,368.50 474.53,370.42 475.50,372.50C476.47,374.58 477.20,377.42 478.00,381.00C478.80,384.58 479.55,389.42 480.30,394.00C481.05,398.58 481.72,404.42 482.50,408.50C483.28,412.58 484.17,415.92 485.00,418.50C485.83,421.08 486.50,422.68 487.50,424.00C488.50,425.32 489.58,425.83 491.00,426.40C492.42,426.97 494.50,427.18 496.00,427.40C497.50,427.62 499.33,427.65 500.00,427.70L554.00,427.70 L554.00,428.00 L426.60,428.00Z" fill="#fff" stroke="none"/>
<path d="M426.60,427.20C428.00,427.10 432.27,427.20 435.00,426.60C437.73,426.00 440.50,425.28 443.00,423.60C445.50,421.92 447.92,419.60 450.00,416.50C452.08,413.40 453.83,408.75 455.50,405.00C457.17,401.25 458.50,397.67 460.00,394.00C461.50,390.33 463.08,386.58 464.50,383.00C465.92,379.42 467.22,374.92 468.50,372.50C469.78,370.08 471.03,368.50 472.20,368.50C473.37,368.50 474.53,370.42 475.50,372.50C476.47,374.58 477.20,377.42 478.00,381.00C478.80,384.58 479.55,389.42 480.30,394.00C481.05,398.58 481.72,404.42 482.50,408.50C483.28,412.58 484.17,415.92 485.00,418.50C485.83,421.08 486.50,422.68 487.50,424.00C488.50,425.32 489.58,425.83 491.00,426.40C492.42,426.97 494.50,427.18 496.00,427.40C497.50,427.62 499.33,427.65 500.00,427.70L554.00,427.70" fill="none" stroke="#7482c8" stroke-width="1.15"/>
<path d="M426.60,458.00C428.00,457.90 432.27,457.73 435.00,457.40C437.73,457.07 440.50,456.82 443.00,456.00C445.50,455.18 447.83,454.33 450.00,452.50C452.17,450.67 454.25,448.08 456.00,445.00C457.75,441.92 459.08,438.25 460.50,434.00C461.92,429.75 463.17,424.17 464.50,419.50C465.83,414.83 467.08,409.32 468.50,406.00C469.92,402.68 471.67,399.93 473.00,399.60C474.33,399.27 475.42,401.52 476.50,404.00C477.58,406.48 478.58,410.50 479.50,414.50C480.42,418.50 481.17,423.58 482.00,428.00C482.83,432.42 483.67,437.33 484.50,441.00C485.33,444.67 486.08,447.50 487.00,450.00C487.92,452.50 488.83,454.73 490.00,456.00C491.17,457.27 492.67,457.27 494.00,457.60C495.33,457.93 497.33,457.93 498.00,458.00L554.00,458.00 L554.00,458.30 L426.60,458.30Z" fill="#fff" stroke="none"/>
<path d="M426.60,458.00C428.00,457.90 432.27,457.73 435.00,457.40C437.73,457.07 440.50,456.82 443.00,456.00C445.50,455.18 447.83,454.33 450.00,452.50C452.17,450.67 454.25,448.08 456.00,445.00C457.75,441.92 459.08,438.25 460.50,434.00C461.92,429.75 463.17,424.17 464.50,419.50C465.83,414.83 467.08,409.32 468.50,406.00C469.92,402.68 471.67,399.93 473.00,399.60C474.33,399.27 475.42,401.52 476.50,404.00C477.58,406.48 478.58,410.50 479.50,414.50C480.42,418.50 481.17,423.58 482.00,428.00C482.83,432.42 483.67,437.33 484.50,441.00C485.33,444.67 486.08,447.50 487.00,450.00C487.92,452.50 488.83,454.73 490.00,456.00C491.17,457.27 492.67,457.27 494.00,457.60C495.33,457.93 497.33,457.93 498.00,458.00L554.00,458.00" fill="none" stroke="#88c676" stroke-width="1.15"/>
<line x1="426.60" y1="335.30" x2="426.60" y2="393.60" stroke="#ee6a74" stroke-width="1.3"/>
<line x1="426.60" y1="405.60" x2="426.60" y2="427.40" stroke="#7482c8" stroke-width="1.3"/>
<line x1="426.60" y1="439.40" x2="426.60" y2="458.20" stroke="#88c676" stroke-width="1.3"/>
<path d="M425.90,458.60v2.2M435.55,458.60v1.2M441.19,458.60v1.2M445.20,458.60v1.2M448.30,458.60v1.2M450.84,458.60v1.2M452.99,458.60v1.2M454.84,458.60v1.2M456.48,458.60v1.2M457.95,458.60v2.2M467.60,458.60v1.2M473.24,458.60v1.2M477.25,458.60v1.2M480.35,458.60v1.2M482.89,458.60v1.2M485.04,458.60v1.2M486.89,458.60v1.2M488.53,458.60v1.2M490.00,458.60v2.2M499.65,458.60v1.2M505.29,458.60v1.2M509.30,458.60v1.2M512.40,458.60v1.2M514.94,458.60v1.2M517.09,458.60v1.2M518.94,458.60v1.2M520.58,458.60v1.2M522.05,458.60v2.2M531.70,458.60v1.2M537.34,458.60v1.2M541.35,458.60v1.2M544.45,458.60v1.2M546.99,458.60v1.2M549.14,458.60v1.2M550.99,458.60v1.2M552.63,458.60v1.2" stroke="#777" stroke-width="0.8" fill="none"/>
<text x="269.15" y="395.01" font-size="12.5" text-anchor="start" fill="#231f20">0</text>
<text x="268.91" y="430.16" font-size="12.5" text-anchor="start" fill="#231f20">1</text>
<text x="261.73" y="458.16" font-size="12.5" text-anchor="start" fill="#231f20">10</text>
<text x="0.00" y="0.00" font-size="12.8" text-anchor="start" fill="#231f20" transform="translate(253.66 465.88) rotate(-90)">GM-CSF (ng/mL)</text>
<line x1="257.6" y1="366.3" x2="257.6" y2="462.0" stroke="#231f20" stroke-width="1.4"/>
<text x="339.16" y="490.00" font-size="13.5" text-anchor="start" fill="#231f20">WT</text>
<text x="479.99" y="490.00" font-size="13.5" text-anchor="start" fill="#231f20">KO</text>
<text x="0.00" y="0.00" font-size="14.3" text-anchor="start" fill="#231f20" transform="translate(679.76 307.80) scale(1.0 0.92)">pERK1/2</text>
<line x1="617.40" y1="334.80" x2="617.40" y2="455.80" stroke="#231f20" stroke-width="1.5"/>
<line x1="613.40" y1="455.80" x2="800.00" y2="455.80" stroke="#231f20" stroke-width="1.5"/>
<line x1="613.40" y1="455.80" x2="617.40" y2="455.80" stroke="#231f20" stroke-width="1.5"/>
<text x="597.48" y="459.75" font-size="13.8" text-anchor="start" fill="#231f20">0</text>
<line x1="613.40" y1="415.10" x2="617.40" y2="415.10" stroke="#231f20" stroke-width="1.5"/>
<text x="592.35" y="419.45" font-size="13.8" text-anchor="start" fill="#231f20">50</text>
<line x1="613.40" y1="374.80" x2="617.40" y2="374.80" stroke="#231f20" stroke-width="1.5"/>
<text x="588.23" y="378.85" font-size="13.8" text-anchor="start" fill="#231f20">100</text>
<line x1="613.40" y1="334.80" x2="617.40" y2="334.80" stroke="#231f20" stroke-width="1.5"/>
<text x="588.23" y="338.85" font-size="13.8" text-anchor="start" fill="#231f20">150</text>
<line x1="648.20" y1="455.80" x2="648.20" y2="460.60" stroke="#231f20" stroke-width="1.4"/>
<line x1="708.60" y1="455.80" x2="708.60" y2="460.60" stroke="#231f20" stroke-width="1.4"/>
<polyline points="648.20,443.70 708.60,440.60 769.40,440.60" fill="none" stroke="#231f20" stroke-width="1.75" stroke-dasharray="2.8,2.1"/>
<polyline points="648.20,443.50 708.60,390.70 769.40,395.60" fill="none" stroke="#231f20" stroke-width="1.45"/>
<line x1="708.60" y1="368.00" x2="708.60" y2="413.30" stroke="#231f20" stroke-width="1.35"/>
<line x1="705.60" y1="368.00" x2="711.60" y2="368.00" stroke="#231f20" stroke-width="1.55"/>
<line x1="705.60" y1="413.30" x2="711.60" y2="413.30" stroke="#231f20" stroke-width="1.55"/>
<line x1="769.40" y1="379.30" x2="769.40" y2="411.80" stroke="#231f20" stroke-width="1.35"/>
<line x1="766.40" y1="379.30" x2="772.40" y2="379.30" stroke="#231f20" stroke-width="1.55"/>
<line x1="766.40" y1="411.80" x2="772.40" y2="411.80" stroke="#231f20" stroke-width="1.55"/>
<circle cx="648.20" cy="443.50" r="3.6" fill="#231f20"/>
<circle cx="708.60" cy="390.70" r="3.6" fill="#231f20"/>
<circle cx="769.40" cy="395.60" r="3.6" fill="#231f20"/>
<rect x="645.20" y="440.70" width="6.0" height="6.0" fill="#fff" stroke="#231f20" stroke-width="1.3"/>
<rect x="705.60" y="437.60" width="6.0" height="6.0" fill="#fff" stroke="#231f20" stroke-width="1.3"/>
<rect x="766.40" y="437.60" width="6.0" height="6.0" fill="#fff" stroke="#231f20" stroke-width="1.3"/>
<path d="M705.70,431.30L713.10,431.30M707.55,428.10L711.25,434.50M711.25,428.10L707.55,434.50" stroke="#454545" stroke-width="1.6" fill="none"/>
<path d="M761.90,427.80L769.30,427.80M763.75,424.60L767.45,431.00M767.45,424.60L763.75,431.00" stroke="#454545" stroke-width="1.6" fill="none"/>
<path d="M770.90,427.80L778.30,427.80M772.75,424.60L776.45,431.00M776.45,424.60L772.75,431.00" stroke="#454545" stroke-width="1.6" fill="none"/>
<line x1="623.10" y1="349.90" x2="635.10" y2="349.90" stroke="#231f20" stroke-width="1.4"/>
<circle cx="628.90" cy="349.90" r="3.2" fill="#231f20"/>
<line x1="623.10" y1="366.50" x2="635.10" y2="366.50" stroke="#231f20" stroke-width="1.2" stroke-dasharray="1.8,1.4"/>
<rect x="626.30" y="363.90" width="5.2" height="5.2" fill="#fff" stroke="#231f20" stroke-width="1.2"/>
<text x="638.75" y="354.96" font-size="14.3" text-anchor="start" fill="#231f20">WT (n=4)</text>
<text x="637.75" y="371.56" font-size="14.3" text-anchor="start" fill="#231f20">KO (n=4)</text>
<text x="0.00" y="0.00" font-size="14.2" text-anchor="start" fill="#231f20" transform="translate(646.89 475.01) rotate(-45)">0</text>
<text x="0.00" y="0.00" font-size="14.2" text-anchor="start" fill="#231f20" transform="translate(706.94 472.15) rotate(-45)">1</text>
<text x="0.00" y="0.00" font-size="14.2" text-anchor="start" fill="#231f20" transform="translate(764.66 478.07) rotate(-45)">10</text>
<text x="662.61" y="489.10" font-size="13.85" text-anchor="start" fill="#231f20">GM-CSF (ng/mL)</text>
<text x="0.00" y="0.00" font-size="14.9" text-anchor="start" fill="#231f20" transform="translate(580.51 449.86) rotate(-90)">Median intensity</text>
<text x="0.00" y="0.00" font-size="14.3" text-anchor="start" fill="#231f20" transform="translate(116.56 521.40) scale(1.0 0.92)">pERK1/2</text>
<text x="0.00" y="0.00" font-size="14.8" text-anchor="start" fill="#231f20" transform="translate(74.19 540.40) scale(1.0 0.92)">Myeloid cells (Mac1+)</text>
<text x="0.00" y="0.00" font-size="14.3" text-anchor="start" fill="#231f20" transform="translate(533.06 521.40) scale(1.0 0.92)">pERK1/2</text>
<text x="0.00" y="0.00" font-size="14.6" text-anchor="start" fill="#231f20" transform="translate(346.27 540.40) scale(1.0 0.92)">Neutrophils (Mac1+ Gr1+)</text>
<text x="0.00" y="0.00" font-size="14.5" text-anchor="start" fill="#231f20" transform="translate(608.67 540.40) scale(1.0 0.92)">Monocytes (Mac1+ Gr1-)</text>
<line x1="55.10" y1="555.50" x2="55.10" y2="674.40" stroke="#231f20" stroke-width="1.5"/>
<line x1="50.80" y1="674.40" x2="232.70" y2="674.40" stroke="#231f20" stroke-width="1.5"/>
<line x1="50.80" y1="674.40" x2="55.10" y2="674.40" stroke="#231f20" stroke-width="1.5"/>
<text x="34.48" y="677.25" font-size="13.8" text-anchor="start" fill="#231f20">0</text>
<line x1="50.80" y1="644.60" x2="55.10" y2="644.60" stroke="#231f20" stroke-width="1.5"/>
<text x="25.02" y="647.85" font-size="13.8" text-anchor="start" fill="#231f20">200</text>
<line x1="50.80" y1="614.90" x2="55.10" y2="614.90" stroke="#231f20" stroke-width="1.5"/>
<text x="25.02" y="618.15" font-size="13.8" text-anchor="start" fill="#231f20">400</text>
<line x1="50.80" y1="585.30" x2="55.10" y2="585.30" stroke="#231f20" stroke-width="1.5"/>
<text x="25.02" y="588.55" font-size="13.8" text-anchor="start" fill="#231f20">600</text>
<line x1="50.80" y1="555.50" x2="55.10" y2="555.50" stroke="#231f20" stroke-width="1.5"/>
<text x="24.83" y="559.65" font-size="13.8" text-anchor="start" fill="#231f20">800</text>
<line x1="84.70" y1="674.40" x2="84.70" y2="679.20" stroke="#231f20" stroke-width="1.4"/>
<line x1="144.10" y1="674.40" x2="144.10" y2="679.20" stroke="#231f20" stroke-width="1.4"/>
<line x1="203.50" y1="674.40" x2="203.50" y2="679.20" stroke="#231f20" stroke-width="1.4"/>
<polyline points="84.70,667.30 144.10,661.40 203.50,661.40" fill="none" stroke="#231f20" stroke-width="1.75" stroke-dasharray="2.8,2.1"/>
<polyline points="84.70,669.00 144.10,603.90 203.50,600.80" fill="none" stroke="#231f20" stroke-width="1.45"/>
<line x1="144.10" y1="589.40" x2="144.10" y2="617.90" stroke="#231f20" stroke-width="1.35"/>
<line x1="141.10" y1="589.40" x2="147.10" y2="589.40" stroke="#231f20" stroke-width="1.55"/>
<line x1="141.10" y1="617.90" x2="147.10" y2="617.90" stroke="#231f20" stroke-width="1.55"/>
<line x1="203.50" y1="576.40" x2="203.50" y2="625.00" stroke="#231f20" stroke-width="1.35"/>
<line x1="200.50" y1="576.40" x2="206.50" y2="576.40" stroke="#231f20" stroke-width="1.55"/>
<line x1="200.50" y1="625.00" x2="206.50" y2="625.00" stroke="#231f20" stroke-width="1.55"/>
<line x1="144.10" y1="655.50" x2="144.10" y2="667.30" stroke="#231f20" stroke-width="1.35"/>
<line x1="141.10" y1="655.50" x2="147.10" y2="655.50" stroke="#231f20" stroke-width="1.55"/>
<line x1="141.10" y1="667.30" x2="147.10" y2="667.30" stroke="#231f20" stroke-width="1.55"/>
<line x1="203.50" y1="654.70" x2="203.50" y2="668.00" stroke="#231f20" stroke-width="1.35"/>
<line x1="200.50" y1="654.70" x2="206.50" y2="654.70" stroke="#231f20" stroke-width="1.55"/>
<line x1="200.50" y1="668.00" x2="206.50" y2="668.00" stroke="#231f20" stroke-width="1.55"/>
<circle cx="84.70" cy="669.00" r="3.6" fill="#231f20"/>
<circle cx="144.10" cy="603.90" r="3.6" fill="#231f20"/>
<circle cx="203.50" cy="600.80" r="3.6" fill="#231f20"/>
<rect x="81.70" y="664.30" width="6.0" height="6.0" fill="#fff" stroke="#231f20" stroke-width="1.3"/>
<rect x="141.10" y="658.40" width="6.0" height="6.0" fill="#fff" stroke="#231f20" stroke-width="1.3"/>
<rect x="200.50" y="658.40" width="6.0" height="6.0" fill="#fff" stroke="#231f20" stroke-width="1.3"/>
<path d="M132.10,649.50L139.50,649.50M133.95,646.30L137.65,652.70M137.65,646.30L133.95,652.70" stroke="#454545" stroke-width="1.6" fill="none"/>
<path d="M141.10,649.50L148.50,649.50M142.95,646.30L146.65,652.70M146.65,646.30L142.95,652.70" stroke="#454545" stroke-width="1.6" fill="none"/>
<path d="M150.10,649.50L157.50,649.50M151.95,646.30L155.65,652.70M155.65,646.30L151.95,652.70" stroke="#454545" stroke-width="1.6" fill="none"/>
<path d="M195.30,649.50L202.70,649.50M197.15,646.30L200.85,652.70M200.85,646.30L197.15,652.70" stroke="#454545" stroke-width="1.6" fill="none"/>
<path d="M204.30,649.50L211.70,649.50M206.15,646.30L209.85,652.70M209.85,646.30L206.15,652.70" stroke="#454545" stroke-width="1.6" fill="none"/>
<line x1="59.20" y1="564.00" x2="71.20" y2="564.00" stroke="#231f20" stroke-width="1.4"/>
<circle cx="65.00" cy="564.00" r="3.2" fill="#231f20"/>
<line x1="59.20" y1="577.20" x2="71.20" y2="577.20" stroke="#231f20" stroke-width="1.2" stroke-dasharray="1.8,1.4"/>
<rect x="62.40" y="574.60" width="5.2" height="5.2" fill="#fff" stroke="#231f20" stroke-width="1.2"/>
<text x="75.00" y="568.59" font-size="12.9" text-anchor="start" fill="#231f20">WT (n=4)</text>
<text x="74.12" y="581.79" font-size="12.9" text-anchor="start" fill="#231f20">KO (n=4)</text>
<text x="0.00" y="0.00" font-size="14.2" text-anchor="start" fill="#231f20" transform="translate(83.19 693.21) rotate(-45)">0</text>
<text x="0.00" y="0.00" font-size="14.2" text-anchor="start" fill="#231f20" transform="translate(143.24 692.45) rotate(-45)">1</text>
<text x="0.00" y="0.00" font-size="14.2" text-anchor="start" fill="#231f20" transform="translate(199.86 695.87) rotate(-45)">10</text>
<text x="88.11" y="713.80" font-size="13.85" text-anchor="start" fill="#231f20">GM-CSF (ng/mL)</text>
<text x="0.00" y="0.00" font-size="14.0" text-anchor="start" fill="#231f20" transform="translate(22.12 670.12) rotate(-90)">Median intensity</text>
<line x1="342.70" y1="554.50" x2="342.70" y2="673.90" stroke="#231f20" stroke-width="1.5"/>
<line x1="338.50" y1="673.90" x2="521.70" y2="673.90" stroke="#231f20" stroke-width="1.5"/>
<line x1="338.50" y1="673.90" x2="342.70" y2="673.90" stroke="#231f20" stroke-width="1.5"/>
<text x="323.18" y="677.00" font-size="13.8" text-anchor="start" fill="#231f20">0</text>
<line x1="338.50" y1="644.40" x2="342.70" y2="644.40" stroke="#231f20" stroke-width="1.5"/>
<text x="313.32" y="648.25" font-size="13.8" text-anchor="start" fill="#231f20">200</text>
<line x1="338.50" y1="614.50" x2="342.70" y2="614.50" stroke="#231f20" stroke-width="1.5"/>
<text x="313.32" y="618.35" font-size="13.8" text-anchor="start" fill="#231f20">400</text>
<line x1="338.50" y1="584.60" x2="342.70" y2="584.60" stroke="#231f20" stroke-width="1.5"/>
<text x="313.32" y="588.45" font-size="13.8" text-anchor="start" fill="#231f20">600</text>
<line x1="338.50" y1="554.50" x2="342.70" y2="554.50" stroke="#231f20" stroke-width="1.5"/>
<text x="313.32" y="558.65" font-size="13.8" text-anchor="start" fill="#231f20">800</text>
<line x1="373.25" y1="673.90" x2="373.25" y2="678.70" stroke="#231f20" stroke-width="1.4"/>
<line x1="432.60" y1="673.90" x2="432.60" y2="678.70" stroke="#231f20" stroke-width="1.4"/>
<line x1="492.00" y1="673.90" x2="492.00" y2="678.70" stroke="#231f20" stroke-width="1.4"/>
<polyline points="373.25,665.70 432.60,660.90 492.00,660.70" fill="none" stroke="#231f20" stroke-width="1.75" stroke-dasharray="2.8,2.1"/>
<polyline points="373.25,668.50 432.60,599.20 492.00,591.30" fill="none" stroke="#231f20" stroke-width="1.45"/>
<line x1="432.60" y1="585.40" x2="432.60" y2="612.20" stroke="#231f20" stroke-width="1.35"/>
<line x1="429.60" y1="585.40" x2="435.60" y2="585.40" stroke="#231f20" stroke-width="1.55"/>
<line x1="429.60" y1="612.20" x2="435.60" y2="612.20" stroke="#231f20" stroke-width="1.55"/>
<line x1="492.00" y1="566.90" x2="492.00" y2="615.10" stroke="#231f20" stroke-width="1.35"/>
<line x1="489.00" y1="566.90" x2="495.00" y2="566.90" stroke="#231f20" stroke-width="1.55"/>
<line x1="489.00" y1="615.10" x2="495.00" y2="615.10" stroke="#231f20" stroke-width="1.55"/>
<line x1="432.60" y1="657.80" x2="432.60" y2="664.20" stroke="#231f20" stroke-width="1.35"/>
<line x1="429.60" y1="657.80" x2="435.60" y2="657.80" stroke="#231f20" stroke-width="1.55"/>
<line x1="429.60" y1="664.20" x2="435.60" y2="664.20" stroke="#231f20" stroke-width="1.55"/>
<line x1="492.00" y1="653.10" x2="492.00" y2="667.30" stroke="#231f20" stroke-width="1.35"/>
<line x1="489.00" y1="653.10" x2="495.00" y2="653.10" stroke="#231f20" stroke-width="1.55"/>
<line x1="489.00" y1="667.30" x2="495.00" y2="667.30" stroke="#231f20" stroke-width="1.55"/>
<circle cx="373.25" cy="668.50" r="3.6" fill="#231f20"/>
<circle cx="432.60" cy="599.20" r="3.6" fill="#231f20"/>
<circle cx="492.00" cy="591.30" r="3.6" fill="#231f20"/>
<rect x="370.25" y="662.70" width="6.0" height="6.0" fill="#fff" stroke="#231f20" stroke-width="1.3"/>
<rect x="429.60" y="657.90" width="6.0" height="6.0" fill="#fff" stroke="#231f20" stroke-width="1.3"/>
<rect x="489.00" y="657.70" width="6.0" height="6.0" fill="#fff" stroke="#231f20" stroke-width="1.3"/>
<path d="M424.40,649.50L431.80,649.50M426.25,646.30L429.95,652.70M429.95,646.30L426.25,652.70" stroke="#454545" stroke-width="1.6" fill="none"/>
<path d="M433.40,649.50L440.80,649.50M435.25,646.30L438.95,652.70M438.95,646.30L435.25,652.70" stroke="#454545" stroke-width="1.6" fill="none"/>
<path d="M489.50,646.70L496.90,646.70M491.35,643.50L495.05,649.90M495.05,643.50L491.35,649.90" stroke="#454545" stroke-width="1.6" fill="none"/>
<line x1="349.80" y1="565.60" x2="361.80" y2="565.60" stroke="#231f20" stroke-width="1.4"/>
<circle cx="355.60" cy="565.60" r="3.2" fill="#231f20"/>
<line x1="349.80" y1="579.00" x2="361.80" y2="579.00" stroke="#231f20" stroke-width="1.2" stroke-dasharray="1.8,1.4"/>
<rect x="353.00" y="576.40" width="5.2" height="5.2" fill="#fff" stroke="#231f20" stroke-width="1.2"/>
<text x="363.75" y="570.42" font-size="13.6" text-anchor="start" fill="#231f20">WT (n=3)</text>
<text x="362.88" y="583.82" font-size="13.6" text-anchor="start" fill="#231f20">KO (n=3)</text>
<text x="0.00" y="0.00" font-size="14.2" text-anchor="start" fill="#231f20" transform="translate(371.09 693.21) rotate(-45)">0</text>
<text x="0.00" y="0.00" font-size="14.2" text-anchor="start" fill="#231f20" transform="translate(430.24 692.45) rotate(-45)">1</text>
<text x="0.00" y="0.00" font-size="14.2" text-anchor="start" fill="#231f20" transform="translate(489.16 695.87) rotate(-45)">10</text>
<text x="376.51" y="713.80" font-size="13.85" text-anchor="start" fill="#231f20">GM-CSF (ng/mL)</text>
<text x="0.00" y="0.00" font-size="14.0" text-anchor="start" fill="#231f20" transform="translate(308.93 669.23) rotate(-90)">Median intensity</text>
<line x1="599.10" y1="555.50" x2="599.10" y2="674.80" stroke="#231f20" stroke-width="1.5"/>
<line x1="594.60" y1="674.80" x2="777.70" y2="674.80" stroke="#231f20" stroke-width="1.5"/>
<line x1="594.60" y1="674.80" x2="599.10" y2="674.80" stroke="#231f20" stroke-width="1.5"/>
<text x="580.08" y="677.95" font-size="13.8" text-anchor="start" fill="#231f20">0</text>
<line x1="594.60" y1="645.00" x2="599.10" y2="645.00" stroke="#231f20" stroke-width="1.5"/>
<text x="570.42" y="648.85" font-size="13.8" text-anchor="start" fill="#231f20">200</text>
<line x1="594.60" y1="615.10" x2="599.10" y2="615.10" stroke="#231f20" stroke-width="1.5"/>
<text x="570.42" y="618.95" font-size="13.8" text-anchor="start" fill="#231f20">400</text>
<line x1="594.60" y1="585.40" x2="599.10" y2="585.40" stroke="#231f20" stroke-width="1.5"/>
<text x="570.42" y="589.25" font-size="13.8" text-anchor="start" fill="#231f20">600</text>
<line x1="594.60" y1="555.50" x2="599.10" y2="555.50" stroke="#231f20" stroke-width="1.5"/>
<text x="570.42" y="559.55" font-size="13.8" text-anchor="start" fill="#231f20">800</text>
<line x1="628.50" y1="674.80" x2="628.50" y2="679.60" stroke="#231f20" stroke-width="1.4"/>
<line x1="688.40" y1="674.80" x2="688.40" y2="679.60" stroke="#231f20" stroke-width="1.4"/>
<line x1="748.50" y1="674.80" x2="748.50" y2="679.60" stroke="#231f20" stroke-width="1.4"/>
<polyline points="628.50,666.10 688.40,637.60 748.50,647.60" fill="none" stroke="#231f20" stroke-width="1.75" stroke-dasharray="2.8,2.1"/>
<polyline points="628.50,668.00 688.40,592.00 748.50,607.20" fill="none" stroke="#231f20" stroke-width="1.45"/>
<line x1="688.40" y1="565.90" x2="688.40" y2="620.50" stroke="#231f20" stroke-width="1.35"/>
<line x1="685.40" y1="565.90" x2="691.40" y2="565.90" stroke="#231f20" stroke-width="1.55"/>
<line x1="685.40" y1="620.50" x2="691.40" y2="620.50" stroke="#231f20" stroke-width="1.55"/>
<line x1="748.50" y1="589.40" x2="748.50" y2="624.60" stroke="#231f20" stroke-width="1.35"/>
<line x1="745.50" y1="589.40" x2="751.50" y2="589.40" stroke="#231f20" stroke-width="1.55"/>
<line x1="745.50" y1="624.60" x2="751.50" y2="624.60" stroke="#231f20" stroke-width="1.55"/>
<line x1="688.40" y1="619.30" x2="688.40" y2="653.80" stroke="#231f20" stroke-width="1.35"/>
<line x1="685.40" y1="619.30" x2="691.40" y2="619.30" stroke="#231f20" stroke-width="1.55"/>
<line x1="685.40" y1="653.80" x2="691.40" y2="653.80" stroke="#231f20" stroke-width="1.55"/>
<line x1="748.50" y1="633.40" x2="748.50" y2="661.40" stroke="#231f20" stroke-width="1.35"/>
<line x1="745.50" y1="633.40" x2="751.50" y2="633.40" stroke="#231f20" stroke-width="1.55"/>
<line x1="745.50" y1="661.40" x2="751.50" y2="661.40" stroke="#231f20" stroke-width="1.55"/>
<circle cx="628.50" cy="668.00" r="3.6" fill="#231f20"/>
<circle cx="688.40" cy="592.00" r="3.6" fill="#231f20"/>
<circle cx="748.50" cy="607.20" r="3.6" fill="#231f20"/>
<rect x="625.50" y="663.10" width="6.0" height="6.0" fill="#fff" stroke="#231f20" stroke-width="1.3"/>
<rect x="685.40" y="634.60" width="6.0" height="6.0" fill="#fff" stroke="#231f20" stroke-width="1.3"/>
<rect x="745.50" y="644.60" width="6.0" height="6.0" fill="#fff" stroke="#231f20" stroke-width="1.3"/>
<path d="M684.70,660.20L692.10,660.20M686.55,657.00L690.25,663.40M690.25,657.00L686.55,663.40" stroke="#454545" stroke-width="1.6" fill="none"/>
<path d="M739.50,667.30L746.90,667.30M741.35,664.10L745.05,670.50M745.05,664.10L741.35,670.50" stroke="#454545" stroke-width="1.6" fill="none"/>
<path d="M748.50,667.30L755.90,667.30M750.35,664.10L754.05,670.50M754.05,664.10L750.35,670.50" stroke="#454545" stroke-width="1.6" fill="none"/>
<line x1="603.60" y1="565.60" x2="615.60" y2="565.60" stroke="#231f20" stroke-width="1.4"/>
<circle cx="609.40" cy="565.60" r="3.2" fill="#231f20"/>
<line x1="603.60" y1="579.00" x2="615.60" y2="579.00" stroke="#231f20" stroke-width="1.2" stroke-dasharray="1.8,1.4"/>
<rect x="606.80" y="576.40" width="5.2" height="5.2" fill="#fff" stroke="#231f20" stroke-width="1.2"/>
<text x="617.80" y="570.42" font-size="13.6" text-anchor="start" fill="#231f20">WT (n=3)</text>
<text x="616.92" y="583.82" font-size="13.6" text-anchor="start" fill="#231f20">KO (n=3)</text>
<text x="0.00" y="0.00" font-size="14.2" text-anchor="start" fill="#231f20" transform="translate(627.29 693.01) rotate(-45)">0</text>
<text x="0.00" y="0.00" font-size="14.2" text-anchor="start" fill="#231f20" transform="translate(686.64 692.25) rotate(-45)">1</text>
<text x="0.00" y="0.00" font-size="14.2" text-anchor="start" fill="#231f20" transform="translate(743.96 695.67) rotate(-45)">10</text>
<text x="633.81" y="713.80" font-size="13.85" text-anchor="start" fill="#231f20">GM-CSF (ng/mL)</text>
<text x="0.00" y="0.00" font-size="14.3" text-anchor="start" fill="#231f20" transform="translate(565.24 669.89) rotate(-90)">Median intensity</text>
<text x="92.86" y="771.30" font-size="13.9" text-anchor="start" fill="#231f20">Neutrophil chemotaxis</text>
<line x1="52.00" y1="815.50" x2="52.00" y2="949.30" stroke="#231f20" stroke-width="1.5"/>
<line x1="47.50" y1="949.30" x2="252.00" y2="949.30" stroke="#231f20" stroke-width="1.5"/>
<line x1="47.50" y1="949.30" x2="52.00" y2="949.30" stroke="#231f20" stroke-width="1.5"/>
<text x="40.25" y="953.31" font-size="14" text-anchor="start" fill="#231f20">0</text>
<line x1="47.50" y1="922.54" x2="52.00" y2="922.54" stroke="#231f20" stroke-width="1.5"/>
<text x="40.25" y="926.62" font-size="14" text-anchor="start" fill="#231f20">2</text>
<line x1="47.50" y1="895.78" x2="52.00" y2="895.78" stroke="#231f20" stroke-width="1.5"/>
<text x="39.75" y="899.79" font-size="14" text-anchor="start" fill="#231f20">4</text>
<line x1="47.50" y1="869.02" x2="52.00" y2="869.02" stroke="#231f20" stroke-width="1.5"/>
<text x="40.25" y="873.03" font-size="14" text-anchor="start" fill="#231f20">6</text>
<line x1="47.50" y1="842.26" x2="52.00" y2="842.26" stroke="#231f20" stroke-width="1.5"/>
<text x="40.12" y="846.27" font-size="14" text-anchor="start" fill="#231f20">8</text>
<line x1="47.50" y1="815.50" x2="52.00" y2="815.50" stroke="#231f20" stroke-width="1.5"/>
<text x="32.50" y="819.51" font-size="14" text-anchor="start" fill="#231f20">10</text>
<line x1="85.50" y1="949.30" x2="85.50" y2="953.80" stroke="#231f20" stroke-width="1.4"/>
<line x1="152.00" y1="949.30" x2="152.00" y2="953.80" stroke="#231f20" stroke-width="1.4"/>
<line x1="218.80" y1="949.30" x2="218.80" y2="953.80" stroke="#231f20" stroke-width="1.4"/>
<rect x="64.50" y="935.50" width="17.50" height="13.80" fill="#231f20"/>
<rect x="90.15" y="936.15" width="16.20" height="13.15" fill="#fff" stroke="#231f20" stroke-width="1.3"/>
<line x1="140.05" y1="838.80" x2="140.05" y2="866.00" stroke="#231f20" stroke-width="1.3"/>
<line x1="136.05" y1="838.80" x2="144.05" y2="838.80" stroke="#231f20" stroke-width="1.6"/>
<rect x="131.30" y="865.50" width="17.50" height="83.80" fill="#231f20"/>
<line x1="164.80" y1="843.30" x2="164.80" y2="863.00" stroke="#231f20" stroke-width="1.3"/>
<line x1="160.80" y1="843.30" x2="168.80" y2="843.30" stroke="#231f20" stroke-width="1.6"/>
<rect x="156.95" y="863.15" width="15.70" height="86.15" fill="#fff" stroke="#231f20" stroke-width="1.3"/>
<line x1="206.25" y1="927.50" x2="206.25" y2="932.30" stroke="#231f20" stroke-width="1.3"/>
<line x1="202.25" y1="927.50" x2="210.25" y2="927.50" stroke="#231f20" stroke-width="1.6"/>
<rect x="197.50" y="931.80" width="17.50" height="17.50" fill="#231f20"/>
<line x1="231.00" y1="928.00" x2="231.00" y2="931.30" stroke="#231f20" stroke-width="1.3"/>
<line x1="227.00" y1="928.00" x2="235.00" y2="928.00" stroke="#231f20" stroke-width="1.6"/>
<rect x="223.15" y="931.45" width="15.70" height="17.85" fill="#fff" stroke="#231f20" stroke-width="1.3"/>
<text x="0.00" y="0.00" font-size="14.6" text-anchor="start" fill="#231f20" transform="translate(20.71 923.41) rotate(-90)">Migration index</text>
<rect x="247.50" y="821.30" width="15.50" height="8.20" fill="#231f20"/>
<text x="271.30" y="830.00" font-size="14.4" text-anchor="start" fill="#231f20">WT (n=4)</text>
<rect x="248.15" y="838.15" width="14.20" height="6.70" fill="#fff" stroke="#231f20" stroke-width="1.3"/>
<text x="270.30" y="846.30" font-size="14.4" text-anchor="start" fill="#231f20">KO (n=4)</text>
<text x="-0.38" y="972.20" font-size="14.1" text-anchor="start" fill="#231f20">Upper well</text>
<text x="-0.38" y="993.60" font-size="14.1" text-anchor="start" fill="#231f20">Lower well</text>
<text x="84.29" y="973.12" font-size="14.1" text-anchor="start" fill="#231f20">-</text>
<text x="149.29" y="973.12" font-size="14.1" text-anchor="start" fill="#231f20">-</text>
<text x="215.81" y="972.75" font-size="14.1" text-anchor="start" fill="#231f20">+</text>
<text x="84.29" y="994.62" font-size="14.1" text-anchor="start" fill="#231f20">-</text>
<text x="148.11" y="994.35" font-size="14.1" text-anchor="start" fill="#231f20">+</text>
<text x="215.81" y="994.35" font-size="14.1" text-anchor="start" fill="#231f20">+</text>
<text x="256.05" y="972.20" font-size="14.1" text-anchor="start" fill="#231f20">fMLP (100nM)</text>
<text x="256.05" y="993.60" font-size="14.1" text-anchor="start" fill="#231f20">fMLP (100nM)</text>
<text x="532.52" y="771.10" font-size="14.5" text-anchor="start" fill="#231f20">Neutrophil survival</text>
<text x="447.06" y="800.60" font-size="13.8" text-anchor="start" fill="#231f20">Before incubation</text>
<rect x="466.60" y="815.30" width="14.00" height="6.30" fill="#231f20"/>
<text x="487.60" y="822.30" font-size="14.4" text-anchor="start" fill="#231f20">WT (n=2)</text>
<rect x="467.25" y="829.35" width="12.70" height="5.80" fill="#fff" stroke="#231f20" stroke-width="1.3"/>
<text x="486.60" y="836.30" font-size="14.4" text-anchor="start" fill="#231f20">KO (n=2)</text>
<line x1="468.40" y1="858.10" x2="468.40" y2="987.30" stroke="#231f20" stroke-width="1.5"/>
<line x1="468.40" y1="987.30" x2="555.40" y2="987.30" stroke="#231f20" stroke-width="1.5"/>
<line x1="463.90" y1="878.90" x2="468.40" y2="878.90" stroke="#231f20" stroke-width="1.5"/>
<text x="437.32" y="883.41" font-size="14" text-anchor="start" fill="#231f20">100</text>
<line x1="463.90" y1="933.30" x2="468.40" y2="933.30" stroke="#231f20" stroke-width="1.5"/>
<text x="444.10" y="937.81" font-size="14" text-anchor="start" fill="#231f20">50</text>
<text x="448.62" y="991.81" font-size="14" text-anchor="start" fill="#231f20">0</text>
<text x="437.49" y="991.09" font-size="14" text-anchor="start" fill="#231f20">-</text>
<rect x="475.30" y="878.90" width="29.70" height="108.40" fill="#231f20"/>
<line x1="533.70" y1="873.30" x2="533.70" y2="881.50" stroke="#231f20" stroke-width="1.3"/>
<line x1="526.95" y1="873.30" x2="540.45" y2="873.30" stroke="#231f20" stroke-width="1.6"/>
<rect x="519.75" y="881.65" width="27.90" height="105.65" fill="#fff" stroke="#231f20" stroke-width="1.3"/>
<text x="0.00" y="0.00" font-size="14.7" text-anchor="start" fill="#231f20" transform="translate(436.96 978.12) rotate(-90)">Relative to WT</text>
<text x="618.94" y="800.60" font-size="13.8" text-anchor="start" fill="#231f20">After 4hr incubation</text>
<rect x="640.40" y="815.30" width="13.40" height="6.60" fill="#231f20"/>
<text x="660.30" y="822.30" font-size="14.4" text-anchor="start" fill="#231f20">WT (n=5)</text>
<rect x="641.05" y="829.85" width="12.10" height="5.80" fill="#fff" stroke="#231f20" stroke-width="1.3"/>
<text x="659.30" y="836.30" font-size="14.4" text-anchor="start" fill="#231f20">KO (n=5)</text>
<line x1="641.20" y1="858.10" x2="641.20" y2="987.30" stroke="#231f20" stroke-width="1.5"/>
<line x1="636.70" y1="987.30" x2="727.80" y2="987.30" stroke="#231f20" stroke-width="1.5"/>
<line x1="636.50" y1="878.60" x2="641.20" y2="878.60" stroke="#231f20" stroke-width="1.5"/>
<text x="609.62" y="883.11" font-size="14" text-anchor="start" fill="#231f20">100</text>
<line x1="636.50" y1="933.40" x2="641.20" y2="933.40" stroke="#231f20" stroke-width="1.5"/>
<text x="617.50" y="937.81" font-size="14" text-anchor="start" fill="#231f20">50</text>
<line x1="636.50" y1="987.30" x2="641.20" y2="987.30" stroke="#231f20" stroke-width="1.5"/>
<text x="620.75" y="991.51" font-size="14" text-anchor="start" fill="#231f20">0</text>
<rect x="648.30" y="878.60" width="29.60" height="108.70" fill="#231f20"/>
<line x1="706.50" y1="897.00" x2="706.50" y2="905.90" stroke="#231f20" stroke-width="1.3"/>
<line x1="699.50" y1="897.00" x2="713.50" y2="897.00" stroke="#231f20" stroke-width="1.6"/>
<rect x="692.45" y="906.05" width="28.10" height="81.25" fill="#fff" stroke="#231f20" stroke-width="1.3"/>
<polyline points="663.50,872.50 663.50,862.00 706.30,862.00 706.30,892.20" fill="none" stroke="#505050" stroke-width="1.35"/>
<path d="M676.55,854.80L684.35,854.80M678.50,851.42L682.40,858.18M682.40,851.42L678.50,858.18" stroke="#454545" stroke-width="1.6" fill="none"/>
<path d="M686.05,854.80L693.85,854.80M688.00,851.42L691.90,858.18M691.90,851.42L688.00,858.18" stroke="#454545" stroke-width="1.6" fill="none"/>
<text x="0.00" y="0.00" font-size="14.7" text-anchor="start" fill="#231f20" transform="translate(608.46 978.12) rotate(-90)">Relative to WT</text>
</svg></body></html>
